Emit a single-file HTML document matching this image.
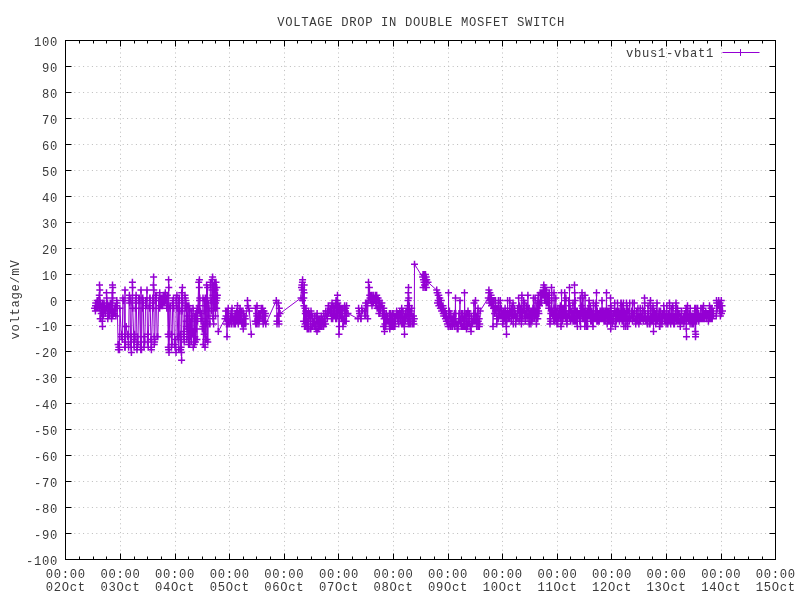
<!DOCTYPE html>
<html><head><meta charset="utf-8"><title>VOLTAGE DROP IN DOUBLE MOSFET SWITCH</title>
<style>
html,body{margin:0;padding:0;background:#fff;}
svg{display:block;}
text{font-family:"Liberation Mono","DejaVu Sans Mono",monospace;font-size:12.2px;letter-spacing:0.68px;fill:#3a3a3a;}
</style></head><body>
<svg width="800" height="600" viewBox="0 0 800 600">
<rect width="800" height="600" fill="#fff"/>
<path d="M120.50 559.5V40.5M175.50 559.5V40.5M229.50 559.5V40.5M284.50 559.5V40.5M338.50 559.5V40.5M393.50 559.5V40.5M448.50 559.5V40.5M502.50 559.5V40.5M557.50 559.5V40.5M611.50 559.5V40.5M666.50 559.5V40.5M721.50 559.5V40.5M65.5 66.50H775.5M65.5 92.50H775.5M65.5 118.50H775.5M65.5 144.50H775.5M65.5 170.50H775.5M65.5 196.50H775.5M65.5 222.50H775.5M65.5 248.50H775.5M65.5 274.50H775.5M65.5 300.50H775.5M65.5 325.50H775.5M65.5 351.50H775.5M65.5 377.50H775.5M65.5 403.50H775.5M65.5 429.50H775.5M65.5 455.50H775.5M65.5 481.50H775.5M65.5 507.50H775.5M65.5 533.50H775.5" fill="none" stroke="#bcbcbc" stroke-width="1" stroke-dasharray="1 3.4"/>
<path d="M65.50 559.5v-6M65.50 40.5v6M79.50 559.5v-3M79.50 40.5v3M93.50 559.5v-3M93.50 40.5v3M106.50 559.5v-3M106.50 40.5v3M120.50 559.5v-6M120.50 40.5v6M134.50 559.5v-3M134.50 40.5v3M147.50 559.5v-3M147.50 40.5v3M161.50 559.5v-3M161.50 40.5v3M175.50 559.5v-6M175.50 40.5v6M188.50 559.5v-3M188.50 40.5v3M202.50 559.5v-3M202.50 40.5v3M215.50 559.5v-3M215.50 40.5v3M229.50 559.5v-6M229.50 40.5v6M243.50 559.5v-3M243.50 40.5v3M256.50 559.5v-3M256.50 40.5v3M270.50 559.5v-3M270.50 40.5v3M284.50 559.5v-6M284.50 40.5v6M297.50 559.5v-3M297.50 40.5v3M311.50 559.5v-3M311.50 40.5v3M325.50 559.5v-3M325.50 40.5v3M338.50 559.5v-6M338.50 40.5v6M352.50 559.5v-3M352.50 40.5v3M366.50 559.5v-3M366.50 40.5v3M379.50 559.5v-3M379.50 40.5v3M393.50 559.5v-6M393.50 40.5v6M407.50 559.5v-3M407.50 40.5v3M420.50 559.5v-3M420.50 40.5v3M434.50 559.5v-3M434.50 40.5v3M448.50 559.5v-6M448.50 40.5v6M461.50 559.5v-3M461.50 40.5v3M475.50 559.5v-3M475.50 40.5v3M489.50 559.5v-3M489.50 40.5v3M502.50 559.5v-6M502.50 40.5v6M516.50 559.5v-3M516.50 40.5v3M530.50 559.5v-3M530.50 40.5v3M543.50 559.5v-3M543.50 40.5v3M557.50 559.5v-6M557.50 40.5v6M570.50 559.5v-3M570.50 40.5v3M584.50 559.5v-3M584.50 40.5v3M598.50 559.5v-3M598.50 40.5v3M611.50 559.5v-6M611.50 40.5v6M625.50 559.5v-3M625.50 40.5v3M639.50 559.5v-3M639.50 40.5v3M652.50 559.5v-3M652.50 40.5v3M666.50 559.5v-6M666.50 40.5v6M680.50 559.5v-3M680.50 40.5v3M693.50 559.5v-3M693.50 40.5v3M707.50 559.5v-3M707.50 40.5v3M721.50 559.5v-6M721.50 40.5v6M734.50 559.5v-3M734.50 40.5v3M748.50 559.5v-3M748.50 40.5v3M762.50 559.5v-3M762.50 40.5v3M775.50 559.5v-6M775.50 40.5v6M65.5 40.50h6M775.5 40.50h-6M65.5 66.50h6M775.5 66.50h-6M65.5 92.50h6M775.5 92.50h-6M65.5 118.50h6M775.5 118.50h-6M65.5 144.50h6M775.5 144.50h-6M65.5 170.50h6M775.5 170.50h-6M65.5 196.50h6M775.5 196.50h-6M65.5 222.50h6M775.5 222.50h-6M65.5 248.50h6M775.5 248.50h-6M65.5 274.50h6M775.5 274.50h-6M65.5 300.50h6M775.5 300.50h-6M65.5 325.50h6M775.5 325.50h-6M65.5 351.50h6M775.5 351.50h-6M65.5 377.50h6M775.5 377.50h-6M65.5 403.50h6M775.5 403.50h-6M65.5 429.50h6M775.5 429.50h-6M65.5 455.50h6M775.5 455.50h-6M65.5 481.50h6M775.5 481.50h-6M65.5 507.50h6M775.5 507.50h-6M65.5 533.50h6M775.5 533.50h-6M65.5 559.50h6M775.5 559.50h-6" fill="none" stroke="#000" stroke-width="1"/>
<rect x="65.5" y="40.5" width="710.0" height="519.0" fill="none" stroke="#000" stroke-width="1"/>
<g fill="none" stroke="#9400d3" stroke-width="1.0">
<path d="M94.6 308.3L95.2 308.3L95.4 310.9L95.5 305.7L95.7 303.1L96.1 305.7L96.2 308.3L96.6 308.3L97.1 300.5L97.4 308.3L98.0 300.5L98.4 305.7L98.9 305.7L99.0 308.3L99.3 295.3L99.3 305.7L99.4 308.3L99.5 284.9L99.8 290.1L99.9 303.1L99.9 300.5L100.2 318.7L100.3 303.1L100.9 305.7L101.2 313.5L101.7 305.7L101.9 308.3L102.2 321.3L102.4 303.1L102.5 303.1L102.5 326.4L102.9 313.5L103.4 316.1L103.5 305.7L103.8 310.9L104.1 303.1L104.2 305.7L104.9 308.3L105.0 310.9L105.3 313.5L105.6 308.3L106.0 310.9L106.2 305.7L106.5 303.1L106.5 292.7L106.7 297.9L106.7 308.3L106.9 305.7L107.6 303.1L107.8 318.7L108.0 313.5L108.3 305.7L108.5 310.9L109.0 316.1L109.3 305.7L109.7 316.1L109.7 313.5L110.2 303.1L110.5 310.9L111.1 303.1L111.6 318.7L111.6 303.1L111.8 310.9L112.2 303.1L112.3 292.7L112.4 297.9L112.5 284.9L112.7 316.1L112.7 287.5L112.8 316.1L112.9 313.5L113.3 310.9L113.9 313.5L114.0 310.9L114.5 313.5L114.6 308.3L115.2 305.7L115.4 308.3L115.9 316.1L116.5 305.7L116.8 300.5L117.0 303.1L117.3 308.3L118.1 344.6L118.4 349.8L118.6 344.6L118.9 347.2L119.4 349.8L119.9 308.3L121.4 336.8L121.7 334.2L121.9 334.2L122.2 339.4L122.9 297.9L123.2 300.5L123.4 300.5L123.7 300.5L123.9 300.5L124.7 347.2L124.9 336.8L125.0 290.1L125.2 347.2L125.4 342.0L126.2 326.4L127.6 336.8L127.9 334.2L128.1 334.2L128.4 344.6L128.6 347.2L129.1 300.5L129.4 295.3L129.6 303.1L129.9 300.5L130.1 297.9L130.5 336.8L130.8 342.0L131.0 347.2L131.3 336.8L131.4 352.4L132.0 303.1L132.3 297.9L132.4 282.3L132.5 308.3L132.6 287.5L132.8 308.3L133.9 342.0L134.1 347.2L134.4 336.8L134.6 334.2L134.9 339.4L135.4 308.3L135.6 300.5L135.9 300.5L136.1 295.3L136.4 303.1L137.0 349.8L137.2 347.2L137.4 342.0L137.7 336.8L137.9 344.6L138.8 297.9L139.0 300.5L139.3 297.9L139.5 300.5L140.5 347.2L140.8 349.8L141.0 290.1L141.0 342.0L141.3 347.2L141.5 349.8L142.3 297.9L142.5 308.3L142.8 297.9L143.0 300.5L143.3 303.1L144.0 347.2L144.3 336.8L144.5 342.0L144.8 342.0L145.7 300.5L146.0 300.5L146.2 305.7L146.5 305.7L146.7 300.5L147.0 290.1L147.5 342.0L147.7 334.2L148.0 334.2L148.2 347.2L149.1 305.7L149.3 305.7L149.6 308.3L149.8 297.9L150.1 297.9L150.9 339.4L151.1 347.2L151.4 349.8L151.6 342.0L152.6 308.3L152.8 297.9L153.1 308.3L153.3 303.1L153.4 284.9L153.6 300.5L153.6 277.1L153.8 290.1L154.1 336.8L154.3 344.6L154.6 342.0L154.8 339.4L155.6 295.3L155.9 295.3L156.1 297.9L156.4 295.3L157.1 336.8L157.3 336.8L157.6 336.8L157.8 336.8L158.7 300.5L159.0 300.5L159.2 297.9L159.5 308.3L159.6 305.7L159.7 292.7L159.7 308.3L160.1 297.9L160.4 305.7L160.8 305.7L161.1 300.5L161.3 297.9L161.8 303.1L161.9 297.9L162.2 305.7L162.4 300.5L162.6 305.7L162.9 303.1L163.3 295.3L163.6 297.9L163.9 300.5L164.2 303.1L164.5 295.3L165.0 303.1L165.2 300.5L165.3 292.7L166.3 297.9L166.6 297.9L166.8 308.3L167.1 295.3L167.3 295.3L168.1 334.2L168.3 347.2L168.6 349.8L168.6 279.7L168.8 287.5L168.8 336.8L169.0 352.4L169.9 305.7L170.1 308.3L170.4 305.7L170.6 305.7L171.2 334.2L171.5 347.2L171.7 334.2L172.0 344.6L172.7 303.1L173.0 300.5L173.2 305.7L173.5 297.9L173.7 308.3L174.5 344.6L174.7 344.6L175.0 347.2L175.2 339.4L176.0 352.4L176.1 297.9L176.4 303.1L176.6 305.7L176.9 295.3L177.1 308.3L177.8 336.8L178.1 339.4L178.3 336.8L178.6 336.8L178.8 300.5L178.8 349.8L179.1 297.9L179.3 297.9L179.6 308.3L179.8 310.9L180.2 334.2L180.5 349.8L180.7 349.8L181.0 339.4L181.2 347.2L181.4 352.4L181.6 360.2L181.7 292.7L182.0 310.9L182.2 300.5L182.4 287.5L182.5 297.9L182.7 303.1L183.5 334.2L183.7 336.8L184.0 331.6L184.2 342.0L185.0 295.3L185.3 297.9L185.5 308.3L185.8 300.5L186.0 305.7L186.2 321.3L186.3 326.4L186.7 305.7L186.9 339.4L187.3 316.1L187.5 329.0L187.9 305.7L188.1 334.2L188.3 326.4L188.6 344.6L188.9 305.7L189.3 331.6L189.6 308.3L189.6 344.6L190.1 336.8L190.3 321.3L190.6 336.8L190.8 331.6L191.2 310.9L191.4 342.0L191.8 318.7L192.0 316.1L192.3 331.6L192.5 334.2L192.8 334.2L193.1 308.3L193.3 347.2L193.7 336.8L193.8 331.6L194.3 344.6L194.6 316.1L194.9 336.8L194.9 318.7L195.4 342.0L195.8 329.0L195.9 313.5L196.3 329.0L196.3 316.1L196.7 310.9L197.0 339.4L197.2 308.3L197.6 321.3L197.8 310.9L198.7 282.3L198.9 310.9L199.1 305.7L199.3 287.5L199.4 279.7L199.6 300.5L199.8 297.9L200.1 313.5L200.3 313.5L200.6 310.9L201.1 321.3L201.4 313.5L201.9 318.7L202.3 329.0L202.8 326.4L203.0 297.9L203.3 344.6L203.8 323.9L204.1 334.2L204.3 300.5L204.7 310.9L204.9 305.7L205.0 347.2L205.3 297.9L205.7 339.4L206.1 323.9L206.3 321.3L206.5 297.9L206.6 284.9L207.0 339.4L207.2 300.5L207.6 287.5L207.8 342.0L208.4 303.1L208.6 316.1L209.0 308.3L209.3 323.9L210.0 323.9L210.3 284.9L210.7 282.3L210.8 284.9L211.1 300.5L211.5 310.9L211.7 303.1L212.1 279.7L212.3 279.7L212.4 290.1L212.6 277.1L212.7 284.9L212.9 318.7L212.9 295.3L213.6 300.5L213.6 323.9L213.7 284.9L214.0 290.1L214.6 308.3L214.7 297.9L214.8 282.3L215.2 290.1L215.5 316.1L215.6 303.1L215.9 287.5L216.0 282.3L216.2 300.5L216.7 308.3L216.8 287.5L216.9 297.9L217.4 295.3L218.3 331.6L225.0 318.7L225.3 318.7L225.7 310.9L226.0 316.1L226.5 323.9L226.6 310.9L226.9 310.9L227.0 336.8L227.1 316.1L227.9 323.9L227.9 316.1L228.2 308.3L228.4 313.5L228.7 318.7L229.3 321.3L229.5 323.9L229.9 321.3L230.5 316.1L230.8 321.3L231.3 310.9L231.4 323.9L231.7 318.7L231.7 318.7L231.8 323.9L232.0 308.3L232.2 318.7L232.9 316.1L233.2 318.7L233.6 321.3L234.0 323.9L234.3 321.3L234.7 318.7L235.0 313.5L235.4 323.9L235.4 316.1L235.7 316.1L236.1 318.7L236.5 313.5L236.7 310.9L236.8 321.3L237.2 316.1L237.5 305.7L237.7 318.7L238.3 323.9L238.6 313.5L239.0 321.3L239.3 310.9L239.3 316.1L239.8 310.9L239.9 313.5L240.0 308.3L240.3 313.5L240.4 321.3L240.8 313.5L241.3 310.9L241.7 323.9L242.0 323.9L242.4 321.3L242.5 321.3L242.8 323.9L243.0 310.9L243.3 329.0L243.5 313.5L243.9 316.1L244.2 323.9L244.5 318.7L244.6 316.1L245.0 316.1L245.3 318.7L245.7 323.9L247.5 300.5L247.8 305.7L248.5 308.3L249.3 310.9L251.3 334.2M255.1 321.3L255.5 308.3L255.8 323.9L256.2 321.3L256.6 313.5L256.8 316.1L257.0 305.7L257.1 323.9L257.8 321.3L258.0 318.7L258.5 321.3L258.6 313.5L258.9 323.9L259.2 321.3L259.3 316.1L259.7 313.5L260.2 313.5L260.3 313.5L260.9 318.7L261.0 318.7L261.4 308.3L261.8 310.9L262.4 310.9L262.6 308.3L262.7 318.7L262.9 313.5L263.2 323.9L263.7 316.1L264.0 310.9L264.5 321.3L264.8 313.5L265.0 316.1L265.1 321.3L265.6 313.5L265.8 323.9L276.3 300.5L276.6 303.1L276.9 321.3L277.0 323.9L277.4 316.1L277.7 321.3L277.8 321.3L278.2 316.1L278.4 303.1L278.7 321.3L278.8 321.3L279.0 323.9L279.3 308.3L280.0 313.5L301.0 297.9L301.5 287.5L301.7 287.5L301.9 284.9L302.3 290.1L302.4 282.3L302.6 279.7L302.6 300.5L303.0 290.1L303.3 290.1L303.6 321.3L303.6 290.1L303.8 297.9L303.9 305.7L304.1 292.7L304.2 284.9L304.6 326.4L305.0 308.3L305.1 323.9L305.3 313.5L305.5 326.4L305.6 321.3L305.7 310.9L306.0 308.3L306.2 321.3L306.5 313.5L306.6 313.5L306.7 323.9L307.0 313.5L307.2 329.0L307.5 326.4L307.6 323.9L308.1 318.7L308.4 329.0L308.5 310.9L309.0 316.1L309.2 313.5L309.9 316.1L310.2 329.0L310.3 318.7L310.8 329.0L311.0 310.9L311.4 313.5L311.4 316.1L311.9 316.1L312.1 326.4L312.6 316.1L312.9 326.4L313.4 323.9L313.7 321.3L313.9 323.9L314.3 323.9L314.6 316.1L314.8 326.4L315.0 323.9L315.6 326.4L315.9 329.0L316.3 316.1L316.5 321.3L317.0 316.1L317.0 331.6L317.1 313.5L317.2 321.3L317.8 318.7L318.0 323.9L318.3 329.0L318.7 329.0L319.0 321.3L319.3 318.7L319.6 326.4L319.8 326.4L320.1 321.3L320.6 321.3L320.9 318.7L320.9 326.4L321.4 316.1L321.6 326.4L322.0 326.4L322.2 321.3L322.5 318.7L322.9 321.3L323.2 321.3L323.6 326.4L323.8 323.9L323.9 313.5L324.6 318.7L324.7 323.9L325.3 323.9L325.6 323.9L325.8 310.9L325.9 313.5L326.6 316.1L326.8 316.1L327.4 318.7L327.7 310.9L327.9 313.5L328.3 305.7L328.5 310.9L328.6 305.7L328.9 313.5L329.3 310.9L329.5 310.9L330.3 308.3L330.5 310.9L330.8 313.5L330.9 313.5L331.5 305.7L331.5 318.7L331.9 316.1L332.0 303.1L332.4 316.1L332.7 318.7L333.2 305.7L333.6 316.1L333.6 316.1L333.7 310.9L334.4 308.3L334.6 316.1L334.9 305.7L335.0 305.7L335.7 318.7L336.0 316.1L336.0 300.5L336.1 303.1L336.5 305.7L336.7 318.7L337.1 305.7L337.2 300.5L337.4 316.1L337.5 295.3L337.6 310.9L337.8 303.1L338.0 305.7L338.6 305.7L339.0 334.2L339.0 310.9L339.3 310.9L339.3 326.4L339.5 318.7L339.7 305.7L340.3 316.1L340.7 308.3L340.7 313.5L340.9 310.9L341.4 316.1L341.6 318.7L341.7 308.3L342.3 318.7L342.8 308.3L342.8 318.7L343.0 326.4L343.5 318.7L343.7 318.7L343.8 321.3L344.4 308.3L344.6 305.7L344.9 321.3L345.1 310.9L345.7 308.3L346.0 313.5L346.2 321.3L346.3 316.1L346.6 305.7L348.0 313.5L358.0 318.7L358.6 308.3L359.3 310.9L359.5 313.5L360.1 316.1L360.8 318.7L361.1 318.7L361.8 308.3L362.5 310.9L364.5 310.9L364.9 316.1L365.6 303.1L365.8 316.1L366.8 305.7L367.1 303.1L367.7 318.7L368.5 282.3L368.7 287.5L368.9 300.5L369.4 287.5L369.7 295.3L370.0 297.9L370.2 297.9L370.6 300.5L371.1 295.3L371.4 303.1L371.6 295.3L372.0 305.7L372.3 297.9L372.7 300.5L372.9 300.5L373.2 295.3L373.5 303.1L373.9 297.9L374.3 300.5L374.5 297.9L375.0 300.5L375.3 295.3L375.6 300.5L375.9 305.7L376.4 305.7L376.7 295.3L376.8 300.5L377.1 308.3L377.4 308.3L377.8 308.3L378.1 297.9L378.5 300.5L378.9 313.5L379.3 308.3L379.4 300.5L379.8 313.5L380.1 303.1L380.4 310.9L381.0 305.7L381.2 305.7L381.6 305.7L381.9 303.1L382.2 308.3L382.4 316.1L382.7 310.9L383.1 313.5L383.1 308.3L383.6 326.4L383.6 316.1L383.8 308.3L384.1 318.7L384.4 313.5L384.5 331.6L384.5 313.5L384.9 323.9L384.9 316.1L385.5 316.1L385.7 326.4L385.8 323.9L386.4 313.5L386.5 321.3L387.2 321.3L387.3 321.3L387.4 321.3L387.6 316.1L388.1 321.3L388.7 321.3L389.2 323.9L389.4 313.5L389.8 329.0L389.8 318.7L390.2 323.9L390.5 326.4L390.7 313.5L391.3 316.1L391.7 326.4L392.0 321.3L392.2 326.4L392.6 313.5L392.9 321.3L393.0 313.5L393.2 326.4L393.7 326.4L394.1 323.9L394.4 316.1L394.4 318.7L394.9 326.4L395.2 316.1L395.6 321.3L396.1 316.1L396.3 316.1L396.6 316.1L396.7 310.9L396.9 316.1L397.5 313.5L397.9 321.3L398.2 318.7L398.6 313.5L398.8 323.9L398.9 318.7L399.3 313.5L399.8 310.9L400.0 316.1L400.6 321.3L400.8 316.1L401.3 313.5L401.7 308.3L401.8 323.9L402.2 316.1L402.4 323.9L402.5 318.7L402.8 321.3L403.0 310.9L403.6 323.9L403.8 318.7L404.3 326.4L404.5 316.1L404.5 334.2L404.5 323.9L404.8 316.1L405.3 313.5L405.4 321.3L405.9 310.9L405.9 310.9L406.1 318.7L406.7 316.1L407.0 316.1L407.4 308.3L407.6 305.7L407.9 321.3L408.1 300.5L408.1 313.5L408.3 292.7L408.4 323.9L408.5 287.5L408.7 297.9L409.1 308.3L409.4 305.7L409.5 323.9L409.7 310.9L410.0 321.3L410.5 323.9L410.7 313.5L411.2 310.9L411.7 308.3L411.9 316.1L412.0 318.7L412.3 323.9L412.7 318.7L413.1 323.9L413.3 321.3L413.5 316.1L413.9 323.9L413.9 323.9L414.3 318.7L414.5 264.2L422.6 277.1L423.0 274.6L423.1 287.5L423.4 279.7L423.6 279.7L424.0 282.3L424.0 274.6L424.2 274.6L424.5 284.9L424.9 274.6L425.0 287.5L425.2 279.7L425.5 274.6L425.7 279.7L426.1 277.1L426.2 277.1L426.4 287.5L426.7 279.7L428.0 282.3L436.7 290.1L437.1 292.7L437.1 292.7L437.5 303.1L437.8 292.7L438.1 300.5L438.2 295.3L438.8 295.3L438.8 305.7L439.2 303.1L439.5 303.1L439.8 297.9L440.0 300.5L440.4 308.3L440.7 305.7L440.9 305.7L441.2 300.5L441.6 310.9L441.6 310.9L442.2 305.7L442.4 308.3L442.6 308.3L443.0 305.7L443.2 313.5L443.6 308.3L443.7 316.1L444.2 316.1L444.4 316.1L444.7 313.5L445.0 313.5L445.1 310.9L445.4 318.7L445.8 313.5L446.1 316.1L446.4 313.5L446.4 321.3L447.0 318.7L447.4 323.9L447.6 321.3L448.2 323.9L448.2 326.4L448.4 316.1L448.5 292.7L448.8 323.9L449.2 313.5L449.4 310.9L449.8 316.1L450.0 326.4L450.7 313.5L450.8 313.5L451.0 326.4L451.5 318.7L451.9 321.3L452.2 318.7L452.6 321.3L452.6 326.4L453.2 316.1L453.6 318.7L453.7 323.9L453.7 321.3L454.4 313.5L454.8 326.4L455.1 318.7L455.5 297.9L455.6 321.3L455.7 313.5L455.8 321.3L456.4 323.9L457.0 323.9L457.2 323.9L457.3 329.0L457.5 326.4L458.0 329.0L458.2 323.9L458.5 321.3L459.0 313.5L459.2 313.5L459.3 321.3L459.7 313.5L460.0 300.5L460.1 321.3L460.4 323.9L460.5 318.7L460.8 323.9L461.5 326.4L461.7 313.5L462.3 318.7L462.5 313.5L462.9 313.5L463.0 326.4L463.5 318.7L464.0 326.4L464.5 321.3L464.5 292.7L465.0 321.3L465.0 326.4L465.0 318.7L465.5 316.1L466.0 313.5L466.5 329.0L466.6 313.5L466.9 313.5L467.3 326.4L467.6 323.9L467.9 313.5L468.0 310.9L468.5 323.9L469.1 321.3L469.2 323.9L469.2 316.1L469.6 313.5L470.4 326.4L470.5 326.4L470.6 326.4L471.0 331.6L471.2 323.9L471.4 316.1L472.0 321.3L472.1 323.9L472.4 321.3L472.5 323.9L473.2 318.7L473.5 318.7L473.7 313.5L473.9 321.3L474.0 303.1L474.3 321.3L474.7 321.3L475.3 313.5L475.5 300.5L475.8 321.3L476.2 316.1L476.3 316.1L476.7 326.4L476.7 318.7L477.2 316.1L477.8 321.3L477.8 313.5L478.0 308.3L478.3 321.3L478.3 326.4L479.2 323.9L479.2 318.7L479.3 326.4L479.7 323.9L480.2 310.9L488.3 297.9L488.7 292.7L488.9 290.1L489.2 300.5L489.4 303.1L489.7 300.5L489.9 292.7L490.4 303.1L490.6 297.9L491.1 295.3L491.4 297.9L491.5 305.7L492.0 300.5L492.2 305.7L492.4 300.5L492.9 300.5L493.0 326.4L493.4 305.7L493.5 308.3L493.9 300.5L494.1 308.3L494.6 313.5L494.9 313.5L495.2 308.3L495.4 310.9L495.5 300.5L495.9 308.3L496.2 308.3L496.7 323.9L496.8 318.7L496.9 316.1L497.4 308.3L497.8 308.3L498.0 308.3L498.3 318.7L498.4 300.5L498.5 303.1L498.8 313.5L498.9 308.3L499.3 316.1L499.7 310.9L500.0 316.1L500.3 300.5L500.5 308.3L500.7 308.3L501.3 316.1L501.4 308.3L501.7 310.9L501.9 316.1L502.3 316.1L502.5 318.7L502.8 323.9L502.9 313.5L503.1 321.3L503.4 310.9L503.6 318.7L504.2 318.7L504.2 313.5L504.3 316.1L504.8 313.5L505.1 308.3L505.3 310.9L505.3 321.3L505.9 313.5L506.2 318.7L506.3 326.4L506.5 334.2L506.7 318.7L506.8 321.3L506.9 313.5L507.4 310.9L507.6 300.5L507.7 313.5L508.2 316.1L508.3 313.5L508.6 318.7L509.1 316.1L509.5 310.9L509.6 318.7L509.8 300.5L510.0 310.9L510.0 316.1L510.4 310.9L510.7 313.5L511.3 313.5L511.4 321.3L511.5 308.3L512.0 313.5L512.2 310.9L512.2 305.7L512.7 316.1L512.9 310.9L513.1 303.1L513.2 316.1L513.3 323.9L513.7 316.1L514.2 316.1L514.4 308.3L514.6 316.1L514.6 308.3L515.0 313.5L515.6 313.5L515.6 316.1L515.7 323.9L515.9 318.7L516.3 316.1L516.4 318.7L516.4 316.1L517.0 316.1L517.1 318.7L517.6 310.9L517.8 308.3L517.9 310.9L518.3 308.3L518.6 310.9L518.6 297.9L519.0 308.3L519.1 321.3L519.4 308.3L519.6 305.7L519.7 310.9L519.9 316.1L520.4 308.3L520.5 316.1L520.9 318.7L521.3 308.3L521.4 323.9L521.7 316.1L521.9 295.3L521.9 310.9L522.3 313.5L522.4 313.5L522.9 318.7L522.9 310.9L523.2 308.3L523.5 308.3L523.7 300.5L523.9 310.9L524.2 308.3L524.6 303.1L524.7 316.1L525.0 316.1L525.3 321.3L525.4 313.5L525.8 318.7L525.8 316.1L526.2 308.3L526.4 316.1L526.5 305.7L526.8 308.3L527.1 316.1L527.4 308.3L527.8 308.3L527.9 295.3L528.0 318.7L528.3 316.1L528.5 308.3L529.1 308.3L529.1 316.1L529.2 323.9L529.7 313.5L529.8 316.1L530.0 316.1L530.4 313.5L530.8 310.9L530.9 323.9L531.0 313.5L531.1 318.7L531.3 310.9L531.8 318.7L532.0 316.1L532.0 321.3L532.5 313.5L532.9 308.3L533.1 318.7L533.1 318.7L533.4 297.9L533.5 313.5L534.0 308.3L534.3 310.9L534.5 310.9L534.7 318.7L534.9 316.1L535.1 297.9L535.2 316.1L535.6 310.9L536.0 316.1L536.4 323.9L536.6 313.5L536.9 310.9L537.0 303.1L537.1 308.3L537.4 308.3L537.7 313.5L537.8 318.7L538.1 300.5L538.3 295.3L538.6 310.9L538.9 313.5L539.3 303.1L539.5 305.7L539.9 303.1L540.1 292.7L540.3 292.7L540.6 300.5L540.9 303.1L541.1 300.5L541.3 292.7L541.6 303.1L541.8 295.3L542.2 295.3L542.4 292.7L542.6 295.3L542.8 295.3L543.1 292.7L543.2 295.3L543.4 287.5L543.7 287.5L543.8 284.9L544.0 292.7L544.1 287.5L544.4 295.3L544.6 300.5L544.9 290.1L544.9 287.5L545.3 290.1L545.4 290.1L545.6 300.5L545.9 290.1L546.2 303.1L546.3 290.1L546.5 290.1L547.0 295.3L547.0 295.3L547.3 303.1L547.7 303.1L547.8 295.3L548.1 300.5L548.4 295.3L548.7 308.3L548.8 297.9L549.2 295.3L549.2 292.7L549.3 300.5L549.7 308.3L550.0 323.9L550.0 308.3L550.3 318.7L550.7 321.3L550.8 313.5L551.1 310.9L551.4 300.5L551.5 287.5L551.6 313.5L551.7 292.7L551.7 300.5L552.0 310.9L552.3 310.9L552.7 316.1L552.8 313.5L553.4 313.5L553.5 316.1L553.5 321.3L554.0 308.3L554.0 292.7L554.4 313.5L554.9 321.3L554.9 318.7L555.2 313.5L555.7 308.3L555.8 297.9L555.9 310.9L556.1 318.7L556.5 310.9L556.5 318.7L557.0 323.9L557.2 316.1L557.6 323.9L557.6 316.1L557.9 308.3L558.3 318.7L558.6 316.1L558.6 316.1L558.7 313.5L559.2 316.1L559.3 313.5L559.8 308.3L560.0 318.7L560.2 313.5L560.4 305.7L560.6 318.7L561.0 305.7L561.0 308.3L561.0 326.4L561.4 316.1L561.5 292.7L561.5 308.3L561.6 308.3L562.2 313.5L562.4 321.3L562.9 308.3L563.0 318.7L563.2 308.3L563.4 313.5L563.5 316.1L563.9 313.5L564.1 316.1L564.3 310.9L564.7 292.7L564.8 316.1L565.1 300.5L565.2 313.5L565.5 318.7L565.7 318.7L565.9 297.9L566.3 313.5L566.7 313.5L566.8 313.5L566.9 323.9L567.1 318.7L567.5 318.7L568.1 316.1L568.2 316.1L568.5 313.5L568.6 313.5L568.7 300.5L569.0 313.5L569.4 313.5L569.5 287.5L569.7 318.7L569.9 305.7L570.0 310.9L570.1 318.7L570.6 318.7L570.7 321.3L571.1 310.9L571.3 310.9L571.7 316.1L571.8 318.7L572.2 316.1L572.3 313.5L572.8 313.5L573.0 303.1L573.0 321.3L573.3 321.3L573.7 316.1L573.8 316.1L574.2 310.9L574.4 318.7L574.5 284.9L574.6 308.3L574.7 292.7L574.7 321.3L575.2 300.5L575.2 310.9L575.5 321.3L575.7 321.3L576.2 316.1L576.3 310.9L576.4 321.3L577.1 321.3L577.3 318.7L577.4 326.4L577.4 310.9L578.0 316.1L578.3 316.1L578.5 313.5L578.7 316.1L579.0 313.5L579.2 313.5L579.3 316.1L579.4 318.7L579.8 321.3L580.2 313.5L580.3 297.9L580.4 313.5L580.5 326.4L580.8 316.1L581.1 313.5L581.4 310.9L581.8 305.7L581.9 313.5L582.0 292.7L582.4 318.7L582.6 308.3L582.7 313.5L582.8 316.1L582.9 297.9L583.3 310.9L583.6 318.7L584.0 318.7L584.2 318.7L584.3 310.9L584.6 313.5L584.8 326.4L585.0 310.9L585.0 295.3L585.5 321.3L585.8 313.5L586.0 316.1L586.1 313.5L586.5 326.4L586.5 313.5L586.9 310.9L587.2 310.9L587.6 313.5L587.6 326.4L587.8 316.1L588.3 310.9L588.3 308.3L588.8 313.5L589.1 300.5L589.1 316.1L589.3 313.5L589.7 310.9L589.9 316.1L590.3 318.7L590.3 305.7L590.7 321.3L590.8 316.1L591.0 321.3L591.5 310.9L591.8 321.3L592.0 310.9L592.1 316.1L592.5 321.3L592.6 316.1L592.9 318.7L593.0 326.4L593.4 313.5L593.4 303.1L593.6 316.1L594.1 318.7L594.3 316.1L594.6 318.7L595.2 313.5L595.4 305.7L595.5 313.5L595.6 318.7L596.0 310.9L596.0 303.1L596.4 316.1L596.5 292.7L596.9 321.3L597.2 318.7L597.3 310.9L597.7 321.3L597.8 316.1L598.3 321.3L598.7 313.5L598.9 313.5L599.0 318.7L599.2 321.3L599.9 318.7L600.0 310.9L600.3 310.9L600.5 316.1L600.9 318.7L601.2 313.5L601.4 316.1L601.6 313.5L601.9 310.9L602.0 300.5L602.3 310.9L602.4 318.7L602.9 310.9L603.1 313.5L603.3 318.7L603.7 310.9L603.9 318.7L604.0 321.3L604.4 318.7L604.7 313.5L605.2 321.3L605.3 310.9L605.8 313.5L605.8 318.7L606.1 316.1L606.2 310.9L606.5 292.7L606.7 313.5L607.0 310.9L607.2 323.9L607.4 318.7L607.5 310.9L608.0 313.5L608.3 318.7L608.5 321.3L609.0 310.9L609.2 313.5L609.3 316.1L609.6 318.7L609.9 321.3L610.3 321.3L610.5 297.9L610.6 308.3L610.7 329.0L610.9 316.1L611.0 305.7L611.2 321.3L611.4 313.5L611.7 318.7L612.1 318.7L612.3 323.9L612.7 321.3L613.0 313.5L613.4 321.3L613.8 313.5L613.9 313.5L614.5 310.9L614.7 303.1L614.7 310.9L615.2 321.3L615.4 313.5L615.4 326.4L615.8 316.1L616.3 310.9L616.3 313.5L616.4 321.3L616.8 316.1L617.4 318.7L617.5 303.1L617.6 318.7L618.0 310.9L618.1 313.5L618.2 310.9L618.7 318.7L619.1 310.9L619.4 321.3L619.8 313.5L619.8 313.5L620.1 313.5L620.5 318.7L620.9 318.7L620.9 303.1L621.1 316.1L621.2 303.1L621.4 310.9L622.0 305.7L622.1 321.3L622.3 316.1L622.8 310.9L623.0 321.3L623.4 318.7L623.4 303.1L623.8 318.7L623.9 326.4L624.1 313.5L624.6 310.9L624.9 313.5L625.2 318.7L625.6 316.1L625.8 326.4L626.0 318.7L626.4 310.9L626.5 303.1L626.5 318.7L627.0 305.7L627.0 321.3L627.4 321.3L627.7 326.4L627.8 310.9L628.1 318.7L628.3 318.7L628.9 318.7L629.1 310.9L629.3 321.3L629.7 303.1L629.9 318.7L630.1 318.7L630.3 318.7L630.5 318.7L631.0 316.1L631.3 316.1L631.4 313.5L631.6 310.9L632.1 310.9L632.2 318.7L632.5 303.1L632.5 321.3L632.8 318.7L633.2 318.7L633.3 313.5L633.9 318.7L633.9 313.5L634.3 303.1L634.6 313.5L634.7 313.5L635.3 321.3L635.4 321.3L635.7 318.7L635.7 323.9L636.2 321.3L636.5 310.9L636.9 316.1L637.3 318.7L637.4 316.1L637.5 316.1L637.8 321.3L637.9 308.3L638.3 316.1L638.4 316.1L638.8 316.1L638.9 323.9L639.1 316.1L639.5 316.1L639.8 321.3L640.2 308.3L640.3 321.3L640.9 318.7L640.9 313.5L641.3 316.1L641.5 318.7L641.7 316.1L641.8 316.1L642.2 318.7L642.5 308.3L642.7 318.7L643.2 318.7L643.4 321.3L643.8 318.7L644.1 310.9L644.3 318.7L644.4 316.1L644.4 318.7L644.5 297.9L644.7 303.1L644.9 318.7L645.0 316.1L645.3 318.7L645.4 313.5L645.6 318.7L645.8 321.3L646.4 321.3L646.5 318.7L646.9 318.7L647.3 323.9L647.5 316.1L647.6 316.1L647.9 313.5L648.0 305.7L648.4 318.7L648.5 313.5L648.8 318.7L649.3 323.9L649.5 321.3L649.9 318.7L650.0 323.9L650.1 321.3L650.1 303.1L650.5 300.5L650.7 316.1L650.9 308.3L651.1 318.7L651.6 316.1L651.6 321.3L651.9 318.7L652.4 318.7L652.7 310.9L653.0 321.3L653.0 308.3L653.0 305.7L653.1 316.1L653.2 316.1L653.5 331.6L653.7 318.7L654.2 310.9L654.4 318.7L654.7 318.7L654.9 313.5L655.2 313.5L655.3 321.3L655.7 323.9L655.8 321.3L656.1 318.7L656.5 321.3L656.5 310.9L656.6 318.7L657.0 303.1L657.2 321.3L657.4 321.3L657.8 321.3L657.9 316.1L658.1 318.7L658.6 318.7L658.8 318.7L659.1 310.9L659.3 316.1L659.5 326.4L659.6 318.7L659.9 326.4L660.0 321.3L660.2 310.9L660.6 310.9L660.8 321.3L661.1 321.3L661.3 316.1L661.6 321.3L661.9 323.9L662.2 318.7L662.4 313.5L662.7 321.3L663.1 316.1L663.3 313.5L663.6 316.1L663.7 305.7L663.9 310.9L664.4 310.9L664.5 316.1L664.7 321.3L665.4 316.1L665.5 318.7L665.7 318.7L666.1 323.9L666.1 321.3L666.3 313.5L666.8 305.7L666.9 321.3L667.3 316.1L667.6 318.7L667.8 323.9L667.9 318.7L668.0 321.3L668.4 313.5L668.5 321.3L668.9 321.3L669.2 316.1L669.2 318.7L669.5 303.1L669.7 316.1L669.9 321.3L670.3 316.1L670.6 318.7L670.7 323.9L671.2 308.3L671.5 316.1L671.7 316.1L671.9 316.1L672.1 321.3L672.7 321.3L672.7 305.7L673.0 308.3L673.4 321.3L673.5 316.1L673.6 321.3L673.8 323.9L674.3 316.1L674.4 323.9L674.6 321.3L675.2 318.7L675.5 313.5L675.5 316.1L675.8 310.9L676.0 308.3L676.0 303.1L676.3 321.3L676.4 321.3L676.7 316.1L677.1 318.7L677.6 308.3L677.9 321.3L677.9 313.5L678.2 316.1L678.4 316.1L678.8 316.1L679.1 313.5L679.4 321.3L679.7 321.3L679.8 321.3L680.3 321.3L680.3 326.4L680.6 316.1L680.8 316.1L681.1 318.7L681.5 310.9L681.7 318.7L681.8 321.3L682.2 318.7L682.4 321.3L682.6 318.7L682.8 318.7L683.4 316.1L683.5 321.3L683.7 321.3L683.9 323.9L684.2 318.7L684.8 321.3L684.8 313.5L685.1 321.3L685.1 318.7L685.8 316.1L686.0 308.3L686.3 310.9L686.3 329.0L686.3 316.1L686.4 310.9L686.5 336.8L686.6 316.1L687.1 316.1L687.2 318.7L687.5 305.7L687.8 310.9L687.9 318.7L688.3 318.7L688.4 321.3L688.5 316.1L688.8 321.3L689.4 321.3L689.6 318.7L689.6 313.5L690.1 321.3L690.1 323.9L690.3 308.3L691.0 318.7L691.0 316.1L691.2 316.1L691.6 321.3L691.9 323.9L692.1 316.1L692.6 321.3L692.7 323.9L693.4 316.1L693.6 321.3L693.6 323.9L693.7 321.3L693.9 318.7L694.4 316.1L694.6 321.3L694.8 308.3L695.3 331.6L695.4 316.1L695.4 310.9L695.5 336.8L695.7 334.2L695.9 318.7L695.9 308.3L696.0 310.9L696.1 316.1L696.7 321.3L696.9 318.7L697.3 313.5L697.6 308.3L697.6 318.7L698.0 316.1L698.6 313.5L698.8 321.3L698.9 316.1L699.2 318.7L699.7 318.7L700.1 316.1L700.3 316.1L700.6 318.7L700.9 308.3L701.1 318.7L701.5 316.1L701.8 318.7L702.1 316.1L702.5 308.3L702.5 313.5L703.0 316.1L703.3 318.7L703.3 313.5L703.5 305.7L703.8 313.5L704.4 313.5L704.6 318.7L705.2 313.5L705.5 313.5L705.5 313.5L705.8 310.9L706.1 316.1L706.1 313.5L706.6 318.7L706.7 313.5L707.2 316.1L707.7 313.5L708.2 313.5L708.4 321.3L708.5 316.1L708.7 313.5L709.1 316.1L709.5 305.7L709.7 318.7L710.0 318.7L710.3 313.5L710.4 313.5L711.0 308.3L711.0 313.5L711.4 318.7L711.8 316.1L712.0 308.3L712.2 318.7L712.7 313.5L712.8 316.1L713.2 310.9L713.3 316.1L713.6 316.1L716.2 316.1L716.5 300.5L716.7 303.1L717.0 310.9L717.5 305.7L717.9 305.7L718.3 303.1L718.4 305.7L718.7 300.5L719.1 305.7L719.6 310.9L719.8 310.9L720.0 303.1L720.4 316.1L720.9 305.7L721.0 310.9L721.3 300.5L721.5 313.5L722.0 305.7L722.5 310.9" stroke-linejoin="round"/>
<path d="M91.1 308.3h7m-3.5 -3.5v7M91.7 308.3h7m-3.5 -3.5v7M91.9 310.9h7m-3.5 -3.5v7M92.0 305.7h7m-3.5 -3.5v7M92.2 303.1h7m-3.5 -3.5v7M92.6 305.7h7m-3.5 -3.5v7M92.7 308.3h7m-3.5 -3.5v7M93.1 308.3h7m-3.5 -3.5v7M93.6 300.5h7m-3.5 -3.5v7M93.9 308.3h7m-3.5 -3.5v7M94.5 300.5h7m-3.5 -3.5v7M94.9 305.7h7m-3.5 -3.5v7M95.4 305.7h7m-3.5 -3.5v7M95.5 308.3h7m-3.5 -3.5v7M95.8 295.3h7m-3.5 -3.5v7M95.8 305.7h7m-3.5 -3.5v7M95.9 308.3h7m-3.5 -3.5v7M96.0 284.9h7m-3.5 -3.5v7M96.3 290.1h7m-3.5 -3.5v7M96.4 303.1h7m-3.5 -3.5v7M96.4 300.5h7m-3.5 -3.5v7M96.7 318.7h7m-3.5 -3.5v7M96.8 303.1h7m-3.5 -3.5v7M97.4 305.7h7m-3.5 -3.5v7M97.7 313.5h7m-3.5 -3.5v7M98.2 305.7h7m-3.5 -3.5v7M98.4 308.3h7m-3.5 -3.5v7M98.7 321.3h7m-3.5 -3.5v7M98.9 303.1h7m-3.5 -3.5v7M99.0 303.1h7m-3.5 -3.5v7M99.0 326.4h7m-3.5 -3.5v7M99.4 313.5h7m-3.5 -3.5v7M99.9 316.1h7m-3.5 -3.5v7M100.0 305.7h7m-3.5 -3.5v7M100.3 310.9h7m-3.5 -3.5v7M100.6 303.1h7m-3.5 -3.5v7M100.7 305.7h7m-3.5 -3.5v7M101.4 308.3h7m-3.5 -3.5v7M101.5 310.9h7m-3.5 -3.5v7M101.8 313.5h7m-3.5 -3.5v7M102.1 308.3h7m-3.5 -3.5v7M102.5 310.9h7m-3.5 -3.5v7M102.7 305.7h7m-3.5 -3.5v7M103.0 303.1h7m-3.5 -3.5v7M103.0 292.7h7m-3.5 -3.5v7M103.2 297.9h7m-3.5 -3.5v7M103.2 308.3h7m-3.5 -3.5v7M103.4 305.7h7m-3.5 -3.5v7M104.1 303.1h7m-3.5 -3.5v7M104.3 318.7h7m-3.5 -3.5v7M104.5 313.5h7m-3.5 -3.5v7M104.8 305.7h7m-3.5 -3.5v7M105.0 310.9h7m-3.5 -3.5v7M105.5 316.1h7m-3.5 -3.5v7M105.8 305.7h7m-3.5 -3.5v7M106.2 316.1h7m-3.5 -3.5v7M106.2 313.5h7m-3.5 -3.5v7M106.7 303.1h7m-3.5 -3.5v7M107.0 310.9h7m-3.5 -3.5v7M107.6 303.1h7m-3.5 -3.5v7M108.1 318.7h7m-3.5 -3.5v7M108.1 303.1h7m-3.5 -3.5v7M108.3 310.9h7m-3.5 -3.5v7M108.7 303.1h7m-3.5 -3.5v7M108.8 292.7h7m-3.5 -3.5v7M108.9 297.9h7m-3.5 -3.5v7M109.0 284.9h7m-3.5 -3.5v7M109.2 316.1h7m-3.5 -3.5v7M109.2 287.5h7m-3.5 -3.5v7M109.3 316.1h7m-3.5 -3.5v7M109.4 313.5h7m-3.5 -3.5v7M109.8 310.9h7m-3.5 -3.5v7M110.4 313.5h7m-3.5 -3.5v7M110.5 310.9h7m-3.5 -3.5v7M111.0 313.5h7m-3.5 -3.5v7M111.1 308.3h7m-3.5 -3.5v7M111.7 305.7h7m-3.5 -3.5v7M111.9 308.3h7m-3.5 -3.5v7M112.4 316.1h7m-3.5 -3.5v7M113.0 305.7h7m-3.5 -3.5v7M113.3 300.5h7m-3.5 -3.5v7M113.5 303.1h7m-3.5 -3.5v7M113.8 308.3h7m-3.5 -3.5v7M114.6 344.6h7m-3.5 -3.5v7M114.9 349.8h7m-3.5 -3.5v7M115.1 344.6h7m-3.5 -3.5v7M115.4 347.2h7m-3.5 -3.5v7M115.9 349.8h7m-3.5 -3.5v7M116.4 308.3h7m-3.5 -3.5v7M117.9 336.8h7m-3.5 -3.5v7M118.2 334.2h7m-3.5 -3.5v7M118.4 334.2h7m-3.5 -3.5v7M118.7 339.4h7m-3.5 -3.5v7M119.4 297.9h7m-3.5 -3.5v7M119.7 300.5h7m-3.5 -3.5v7M119.9 300.5h7m-3.5 -3.5v7M120.2 300.5h7m-3.5 -3.5v7M120.4 300.5h7m-3.5 -3.5v7M121.2 347.2h7m-3.5 -3.5v7M121.4 336.8h7m-3.5 -3.5v7M121.5 290.1h7m-3.5 -3.5v7M121.7 347.2h7m-3.5 -3.5v7M121.9 342.0h7m-3.5 -3.5v7M122.7 326.4h7m-3.5 -3.5v7M124.1 336.8h7m-3.5 -3.5v7M124.4 334.2h7m-3.5 -3.5v7M124.6 334.2h7m-3.5 -3.5v7M124.9 344.6h7m-3.5 -3.5v7M125.1 347.2h7m-3.5 -3.5v7M125.6 300.5h7m-3.5 -3.5v7M125.9 295.3h7m-3.5 -3.5v7M126.1 303.1h7m-3.5 -3.5v7M126.4 300.5h7m-3.5 -3.5v7M126.6 297.9h7m-3.5 -3.5v7M127.0 336.8h7m-3.5 -3.5v7M127.3 342.0h7m-3.5 -3.5v7M127.5 347.2h7m-3.5 -3.5v7M127.8 336.8h7m-3.5 -3.5v7M127.9 352.4h7m-3.5 -3.5v7M128.5 303.1h7m-3.5 -3.5v7M128.8 297.9h7m-3.5 -3.5v7M128.9 282.3h7m-3.5 -3.5v7M129.0 308.3h7m-3.5 -3.5v7M129.1 287.5h7m-3.5 -3.5v7M129.3 308.3h7m-3.5 -3.5v7M130.4 342.0h7m-3.5 -3.5v7M130.6 347.2h7m-3.5 -3.5v7M130.9 336.8h7m-3.5 -3.5v7M131.1 334.2h7m-3.5 -3.5v7M131.4 339.4h7m-3.5 -3.5v7M131.9 308.3h7m-3.5 -3.5v7M132.1 300.5h7m-3.5 -3.5v7M132.4 300.5h7m-3.5 -3.5v7M132.6 295.3h7m-3.5 -3.5v7M132.9 303.1h7m-3.5 -3.5v7M133.5 349.8h7m-3.5 -3.5v7M133.7 347.2h7m-3.5 -3.5v7M133.9 342.0h7m-3.5 -3.5v7M134.2 336.8h7m-3.5 -3.5v7M134.4 344.6h7m-3.5 -3.5v7M135.3 297.9h7m-3.5 -3.5v7M135.5 300.5h7m-3.5 -3.5v7M135.8 297.9h7m-3.5 -3.5v7M136.0 300.5h7m-3.5 -3.5v7M137.0 347.2h7m-3.5 -3.5v7M137.3 349.8h7m-3.5 -3.5v7M137.5 290.1h7m-3.5 -3.5v7M137.5 342.0h7m-3.5 -3.5v7M137.8 347.2h7m-3.5 -3.5v7M138.0 349.8h7m-3.5 -3.5v7M138.8 297.9h7m-3.5 -3.5v7M139.0 308.3h7m-3.5 -3.5v7M139.3 297.9h7m-3.5 -3.5v7M139.5 300.5h7m-3.5 -3.5v7M139.8 303.1h7m-3.5 -3.5v7M140.5 347.2h7m-3.5 -3.5v7M140.8 336.8h7m-3.5 -3.5v7M141.0 342.0h7m-3.5 -3.5v7M141.3 342.0h7m-3.5 -3.5v7M142.2 300.5h7m-3.5 -3.5v7M142.5 300.5h7m-3.5 -3.5v7M142.7 305.7h7m-3.5 -3.5v7M143.0 305.7h7m-3.5 -3.5v7M143.2 300.5h7m-3.5 -3.5v7M143.5 290.1h7m-3.5 -3.5v7M144.0 342.0h7m-3.5 -3.5v7M144.2 334.2h7m-3.5 -3.5v7M144.5 334.2h7m-3.5 -3.5v7M144.7 347.2h7m-3.5 -3.5v7M145.6 305.7h7m-3.5 -3.5v7M145.8 305.7h7m-3.5 -3.5v7M146.1 308.3h7m-3.5 -3.5v7M146.3 297.9h7m-3.5 -3.5v7M146.6 297.9h7m-3.5 -3.5v7M147.4 339.4h7m-3.5 -3.5v7M147.6 347.2h7m-3.5 -3.5v7M147.9 349.8h7m-3.5 -3.5v7M148.1 342.0h7m-3.5 -3.5v7M149.1 308.3h7m-3.5 -3.5v7M149.3 297.9h7m-3.5 -3.5v7M149.6 308.3h7m-3.5 -3.5v7M149.8 303.1h7m-3.5 -3.5v7M149.9 284.9h7m-3.5 -3.5v7M150.1 300.5h7m-3.5 -3.5v7M150.1 277.1h7m-3.5 -3.5v7M150.3 290.1h7m-3.5 -3.5v7M150.6 336.8h7m-3.5 -3.5v7M150.8 344.6h7m-3.5 -3.5v7M151.1 342.0h7m-3.5 -3.5v7M151.3 339.4h7m-3.5 -3.5v7M152.1 295.3h7m-3.5 -3.5v7M152.4 295.3h7m-3.5 -3.5v7M152.6 297.9h7m-3.5 -3.5v7M152.9 295.3h7m-3.5 -3.5v7M153.6 336.8h7m-3.5 -3.5v7M153.8 336.8h7m-3.5 -3.5v7M154.1 336.8h7m-3.5 -3.5v7M154.3 336.8h7m-3.5 -3.5v7M155.2 300.5h7m-3.5 -3.5v7M155.5 300.5h7m-3.5 -3.5v7M155.7 297.9h7m-3.5 -3.5v7M156.0 308.3h7m-3.5 -3.5v7M156.1 305.7h7m-3.5 -3.5v7M156.2 292.7h7m-3.5 -3.5v7M156.2 308.3h7m-3.5 -3.5v7M156.6 297.9h7m-3.5 -3.5v7M156.9 305.7h7m-3.5 -3.5v7M157.3 305.7h7m-3.5 -3.5v7M157.6 300.5h7m-3.5 -3.5v7M157.8 297.9h7m-3.5 -3.5v7M158.3 303.1h7m-3.5 -3.5v7M158.4 297.9h7m-3.5 -3.5v7M158.7 305.7h7m-3.5 -3.5v7M158.9 300.5h7m-3.5 -3.5v7M159.1 305.7h7m-3.5 -3.5v7M159.4 303.1h7m-3.5 -3.5v7M159.8 295.3h7m-3.5 -3.5v7M160.1 297.9h7m-3.5 -3.5v7M160.4 300.5h7m-3.5 -3.5v7M160.7 303.1h7m-3.5 -3.5v7M161.0 295.3h7m-3.5 -3.5v7M161.5 303.1h7m-3.5 -3.5v7M161.7 300.5h7m-3.5 -3.5v7M161.8 292.7h7m-3.5 -3.5v7M162.8 297.9h7m-3.5 -3.5v7M163.1 297.9h7m-3.5 -3.5v7M163.3 308.3h7m-3.5 -3.5v7M163.6 295.3h7m-3.5 -3.5v7M163.8 295.3h7m-3.5 -3.5v7M164.6 334.2h7m-3.5 -3.5v7M164.8 347.2h7m-3.5 -3.5v7M165.1 349.8h7m-3.5 -3.5v7M165.1 279.7h7m-3.5 -3.5v7M165.3 287.5h7m-3.5 -3.5v7M165.3 336.8h7m-3.5 -3.5v7M165.5 352.4h7m-3.5 -3.5v7M166.4 305.7h7m-3.5 -3.5v7M166.6 308.3h7m-3.5 -3.5v7M166.9 305.7h7m-3.5 -3.5v7M167.1 305.7h7m-3.5 -3.5v7M167.7 334.2h7m-3.5 -3.5v7M168.0 347.2h7m-3.5 -3.5v7M168.2 334.2h7m-3.5 -3.5v7M168.5 344.6h7m-3.5 -3.5v7M169.2 303.1h7m-3.5 -3.5v7M169.5 300.5h7m-3.5 -3.5v7M169.7 305.7h7m-3.5 -3.5v7M170.0 297.9h7m-3.5 -3.5v7M170.2 308.3h7m-3.5 -3.5v7M171.0 344.6h7m-3.5 -3.5v7M171.2 344.6h7m-3.5 -3.5v7M171.5 347.2h7m-3.5 -3.5v7M171.7 339.4h7m-3.5 -3.5v7M172.5 352.4h7m-3.5 -3.5v7M172.6 297.9h7m-3.5 -3.5v7M172.9 303.1h7m-3.5 -3.5v7M173.1 305.7h7m-3.5 -3.5v7M173.4 295.3h7m-3.5 -3.5v7M173.6 308.3h7m-3.5 -3.5v7M174.3 336.8h7m-3.5 -3.5v7M174.6 339.4h7m-3.5 -3.5v7M174.8 336.8h7m-3.5 -3.5v7M175.1 336.8h7m-3.5 -3.5v7M175.3 300.5h7m-3.5 -3.5v7M175.3 349.8h7m-3.5 -3.5v7M175.6 297.9h7m-3.5 -3.5v7M175.8 297.9h7m-3.5 -3.5v7M176.1 308.3h7m-3.5 -3.5v7M176.3 310.9h7m-3.5 -3.5v7M176.7 334.2h7m-3.5 -3.5v7M177.0 349.8h7m-3.5 -3.5v7M177.2 349.8h7m-3.5 -3.5v7M177.5 339.4h7m-3.5 -3.5v7M177.7 347.2h7m-3.5 -3.5v7M177.9 352.4h7m-3.5 -3.5v7M178.1 360.2h7m-3.5 -3.5v7M178.2 292.7h7m-3.5 -3.5v7M178.5 310.9h7m-3.5 -3.5v7M178.7 300.5h7m-3.5 -3.5v7M178.9 287.5h7m-3.5 -3.5v7M179.0 297.9h7m-3.5 -3.5v7M179.2 303.1h7m-3.5 -3.5v7M180.0 334.2h7m-3.5 -3.5v7M180.2 336.8h7m-3.5 -3.5v7M180.5 331.6h7m-3.5 -3.5v7M180.7 342.0h7m-3.5 -3.5v7M181.5 295.3h7m-3.5 -3.5v7M181.8 297.9h7m-3.5 -3.5v7M182.0 308.3h7m-3.5 -3.5v7M182.3 300.5h7m-3.5 -3.5v7M182.5 305.7h7m-3.5 -3.5v7M182.7 321.3h7m-3.5 -3.5v7M182.8 326.4h7m-3.5 -3.5v7M183.2 305.7h7m-3.5 -3.5v7M183.4 339.4h7m-3.5 -3.5v7M183.8 316.1h7m-3.5 -3.5v7M184.0 329.0h7m-3.5 -3.5v7M184.4 305.7h7m-3.5 -3.5v7M184.6 334.2h7m-3.5 -3.5v7M184.8 326.4h7m-3.5 -3.5v7M185.1 344.6h7m-3.5 -3.5v7M185.4 305.7h7m-3.5 -3.5v7M185.8 331.6h7m-3.5 -3.5v7M186.1 308.3h7m-3.5 -3.5v7M186.1 344.6h7m-3.5 -3.5v7M186.6 336.8h7m-3.5 -3.5v7M186.8 321.3h7m-3.5 -3.5v7M187.1 336.8h7m-3.5 -3.5v7M187.3 331.6h7m-3.5 -3.5v7M187.7 310.9h7m-3.5 -3.5v7M187.9 342.0h7m-3.5 -3.5v7M188.3 318.7h7m-3.5 -3.5v7M188.5 316.1h7m-3.5 -3.5v7M188.8 331.6h7m-3.5 -3.5v7M189.0 334.2h7m-3.5 -3.5v7M189.3 334.2h7m-3.5 -3.5v7M189.6 308.3h7m-3.5 -3.5v7M189.8 347.2h7m-3.5 -3.5v7M190.2 336.8h7m-3.5 -3.5v7M190.3 331.6h7m-3.5 -3.5v7M190.8 344.6h7m-3.5 -3.5v7M191.1 316.1h7m-3.5 -3.5v7M191.4 336.8h7m-3.5 -3.5v7M191.4 318.7h7m-3.5 -3.5v7M191.9 342.0h7m-3.5 -3.5v7M192.3 329.0h7m-3.5 -3.5v7M192.4 313.5h7m-3.5 -3.5v7M192.8 329.0h7m-3.5 -3.5v7M192.8 316.1h7m-3.5 -3.5v7M193.2 310.9h7m-3.5 -3.5v7M193.5 339.4h7m-3.5 -3.5v7M193.7 308.3h7m-3.5 -3.5v7M194.1 321.3h7m-3.5 -3.5v7M194.3 310.9h7m-3.5 -3.5v7M195.2 282.3h7m-3.5 -3.5v7M195.4 310.9h7m-3.5 -3.5v7M195.6 305.7h7m-3.5 -3.5v7M195.8 287.5h7m-3.5 -3.5v7M195.9 279.7h7m-3.5 -3.5v7M196.1 300.5h7m-3.5 -3.5v7M196.3 297.9h7m-3.5 -3.5v7M196.6 313.5h7m-3.5 -3.5v7M196.8 313.5h7m-3.5 -3.5v7M197.1 310.9h7m-3.5 -3.5v7M197.6 321.3h7m-3.5 -3.5v7M197.9 313.5h7m-3.5 -3.5v7M198.4 318.7h7m-3.5 -3.5v7M198.8 329.0h7m-3.5 -3.5v7M199.3 326.4h7m-3.5 -3.5v7M199.5 297.9h7m-3.5 -3.5v7M199.8 344.6h7m-3.5 -3.5v7M200.3 323.9h7m-3.5 -3.5v7M200.6 334.2h7m-3.5 -3.5v7M200.8 300.5h7m-3.5 -3.5v7M201.2 310.9h7m-3.5 -3.5v7M201.4 305.7h7m-3.5 -3.5v7M201.5 347.2h7m-3.5 -3.5v7M201.8 297.9h7m-3.5 -3.5v7M202.2 339.4h7m-3.5 -3.5v7M202.6 323.9h7m-3.5 -3.5v7M202.8 321.3h7m-3.5 -3.5v7M203.0 297.9h7m-3.5 -3.5v7M203.1 284.9h7m-3.5 -3.5v7M203.5 339.4h7m-3.5 -3.5v7M203.7 300.5h7m-3.5 -3.5v7M204.1 287.5h7m-3.5 -3.5v7M204.3 342.0h7m-3.5 -3.5v7M204.9 303.1h7m-3.5 -3.5v7M205.1 316.1h7m-3.5 -3.5v7M205.5 308.3h7m-3.5 -3.5v7M205.8 323.9h7m-3.5 -3.5v7M206.5 323.9h7m-3.5 -3.5v7M206.8 284.9h7m-3.5 -3.5v7M207.2 282.3h7m-3.5 -3.5v7M207.3 284.9h7m-3.5 -3.5v7M207.6 300.5h7m-3.5 -3.5v7M208.0 310.9h7m-3.5 -3.5v7M208.2 303.1h7m-3.5 -3.5v7M208.6 279.7h7m-3.5 -3.5v7M208.8 279.7h7m-3.5 -3.5v7M208.9 290.1h7m-3.5 -3.5v7M209.1 277.1h7m-3.5 -3.5v7M209.2 284.9h7m-3.5 -3.5v7M209.4 318.7h7m-3.5 -3.5v7M209.4 295.3h7m-3.5 -3.5v7M210.1 300.5h7m-3.5 -3.5v7M210.1 323.9h7m-3.5 -3.5v7M210.2 284.9h7m-3.5 -3.5v7M210.5 290.1h7m-3.5 -3.5v7M211.1 308.3h7m-3.5 -3.5v7M211.2 297.9h7m-3.5 -3.5v7M211.3 282.3h7m-3.5 -3.5v7M211.7 290.1h7m-3.5 -3.5v7M212.0 316.1h7m-3.5 -3.5v7M212.1 303.1h7m-3.5 -3.5v7M212.4 287.5h7m-3.5 -3.5v7M212.5 282.3h7m-3.5 -3.5v7M212.7 300.5h7m-3.5 -3.5v7M213.2 308.3h7m-3.5 -3.5v7M213.3 287.5h7m-3.5 -3.5v7M213.4 297.9h7m-3.5 -3.5v7M213.9 295.3h7m-3.5 -3.5v7M214.8 331.6h7m-3.5 -3.5v7M221.5 318.7h7m-3.5 -3.5v7M221.8 318.7h7m-3.5 -3.5v7M222.2 310.9h7m-3.5 -3.5v7M222.5 316.1h7m-3.5 -3.5v7M223.0 323.9h7m-3.5 -3.5v7M223.1 310.9h7m-3.5 -3.5v7M223.4 310.9h7m-3.5 -3.5v7M223.5 336.8h7m-3.5 -3.5v7M223.6 316.1h7m-3.5 -3.5v7M224.4 323.9h7m-3.5 -3.5v7M224.4 316.1h7m-3.5 -3.5v7M224.7 308.3h7m-3.5 -3.5v7M224.9 313.5h7m-3.5 -3.5v7M225.2 318.7h7m-3.5 -3.5v7M225.8 321.3h7m-3.5 -3.5v7M226.0 323.9h7m-3.5 -3.5v7M226.4 321.3h7m-3.5 -3.5v7M227.0 316.1h7m-3.5 -3.5v7M227.3 321.3h7m-3.5 -3.5v7M227.8 310.9h7m-3.5 -3.5v7M227.9 323.9h7m-3.5 -3.5v7M228.2 318.7h7m-3.5 -3.5v7M228.2 318.7h7m-3.5 -3.5v7M228.3 323.9h7m-3.5 -3.5v7M228.5 308.3h7m-3.5 -3.5v7M228.7 318.7h7m-3.5 -3.5v7M229.4 316.1h7m-3.5 -3.5v7M229.7 318.7h7m-3.5 -3.5v7M230.1 321.3h7m-3.5 -3.5v7M230.5 323.9h7m-3.5 -3.5v7M230.8 321.3h7m-3.5 -3.5v7M231.2 318.7h7m-3.5 -3.5v7M231.5 313.5h7m-3.5 -3.5v7M231.9 323.9h7m-3.5 -3.5v7M231.9 316.1h7m-3.5 -3.5v7M232.2 316.1h7m-3.5 -3.5v7M232.6 318.7h7m-3.5 -3.5v7M233.0 313.5h7m-3.5 -3.5v7M233.2 310.9h7m-3.5 -3.5v7M233.3 321.3h7m-3.5 -3.5v7M233.7 316.1h7m-3.5 -3.5v7M234.0 305.7h7m-3.5 -3.5v7M234.2 318.7h7m-3.5 -3.5v7M234.8 323.9h7m-3.5 -3.5v7M235.1 313.5h7m-3.5 -3.5v7M235.5 321.3h7m-3.5 -3.5v7M235.8 310.9h7m-3.5 -3.5v7M235.8 316.1h7m-3.5 -3.5v7M236.3 310.9h7m-3.5 -3.5v7M236.4 313.5h7m-3.5 -3.5v7M236.5 308.3h7m-3.5 -3.5v7M236.8 313.5h7m-3.5 -3.5v7M236.9 321.3h7m-3.5 -3.5v7M237.3 313.5h7m-3.5 -3.5v7M237.8 310.9h7m-3.5 -3.5v7M238.2 323.9h7m-3.5 -3.5v7M238.5 323.9h7m-3.5 -3.5v7M238.9 321.3h7m-3.5 -3.5v7M239.0 321.3h7m-3.5 -3.5v7M239.3 323.9h7m-3.5 -3.5v7M239.5 310.9h7m-3.5 -3.5v7M239.8 329.0h7m-3.5 -3.5v7M240.0 313.5h7m-3.5 -3.5v7M240.4 316.1h7m-3.5 -3.5v7M240.7 323.9h7m-3.5 -3.5v7M241.0 318.7h7m-3.5 -3.5v7M241.1 316.1h7m-3.5 -3.5v7M241.5 316.1h7m-3.5 -3.5v7M241.8 318.7h7m-3.5 -3.5v7M242.2 323.9h7m-3.5 -3.5v7M244.0 300.5h7m-3.5 -3.5v7M244.3 305.7h7m-3.5 -3.5v7M245.0 308.3h7m-3.5 -3.5v7M245.8 310.9h7m-3.5 -3.5v7M247.8 334.2h7m-3.5 -3.5v7M251.6 321.3h7m-3.5 -3.5v7M252.0 308.3h7m-3.5 -3.5v7M252.3 323.9h7m-3.5 -3.5v7M252.7 321.3h7m-3.5 -3.5v7M253.1 313.5h7m-3.5 -3.5v7M253.3 316.1h7m-3.5 -3.5v7M253.5 305.7h7m-3.5 -3.5v7M253.6 323.9h7m-3.5 -3.5v7M254.3 321.3h7m-3.5 -3.5v7M254.5 318.7h7m-3.5 -3.5v7M255.0 321.3h7m-3.5 -3.5v7M255.1 313.5h7m-3.5 -3.5v7M255.4 323.9h7m-3.5 -3.5v7M255.7 321.3h7m-3.5 -3.5v7M255.8 316.1h7m-3.5 -3.5v7M256.2 313.5h7m-3.5 -3.5v7M256.7 313.5h7m-3.5 -3.5v7M256.8 313.5h7m-3.5 -3.5v7M257.4 318.7h7m-3.5 -3.5v7M257.5 318.7h7m-3.5 -3.5v7M257.9 308.3h7m-3.5 -3.5v7M258.3 310.9h7m-3.5 -3.5v7M258.9 310.9h7m-3.5 -3.5v7M259.1 308.3h7m-3.5 -3.5v7M259.2 318.7h7m-3.5 -3.5v7M259.4 313.5h7m-3.5 -3.5v7M259.7 323.9h7m-3.5 -3.5v7M260.2 316.1h7m-3.5 -3.5v7M260.5 310.9h7m-3.5 -3.5v7M261.0 321.3h7m-3.5 -3.5v7M261.3 313.5h7m-3.5 -3.5v7M261.5 316.1h7m-3.5 -3.5v7M261.6 321.3h7m-3.5 -3.5v7M262.1 313.5h7m-3.5 -3.5v7M262.3 323.9h7m-3.5 -3.5v7M272.8 300.5h7m-3.5 -3.5v7M273.1 303.1h7m-3.5 -3.5v7M273.4 321.3h7m-3.5 -3.5v7M273.5 323.9h7m-3.5 -3.5v7M273.9 316.1h7m-3.5 -3.5v7M274.2 321.3h7m-3.5 -3.5v7M274.3 321.3h7m-3.5 -3.5v7M274.7 316.1h7m-3.5 -3.5v7M274.9 303.1h7m-3.5 -3.5v7M275.2 321.3h7m-3.5 -3.5v7M275.3 321.3h7m-3.5 -3.5v7M275.5 323.9h7m-3.5 -3.5v7M275.8 308.3h7m-3.5 -3.5v7M276.5 313.5h7m-3.5 -3.5v7M297.5 297.9h7m-3.5 -3.5v7M298.0 287.5h7m-3.5 -3.5v7M298.2 287.5h7m-3.5 -3.5v7M298.4 284.9h7m-3.5 -3.5v7M298.8 290.1h7m-3.5 -3.5v7M298.9 282.3h7m-3.5 -3.5v7M299.1 279.7h7m-3.5 -3.5v7M299.1 300.5h7m-3.5 -3.5v7M299.5 290.1h7m-3.5 -3.5v7M299.8 290.1h7m-3.5 -3.5v7M300.1 321.3h7m-3.5 -3.5v7M300.1 290.1h7m-3.5 -3.5v7M300.3 297.9h7m-3.5 -3.5v7M300.4 305.7h7m-3.5 -3.5v7M300.6 292.7h7m-3.5 -3.5v7M300.7 284.9h7m-3.5 -3.5v7M301.1 326.4h7m-3.5 -3.5v7M301.5 308.3h7m-3.5 -3.5v7M301.6 323.9h7m-3.5 -3.5v7M301.8 313.5h7m-3.5 -3.5v7M302.0 326.4h7m-3.5 -3.5v7M302.1 321.3h7m-3.5 -3.5v7M302.2 310.9h7m-3.5 -3.5v7M302.5 308.3h7m-3.5 -3.5v7M302.7 321.3h7m-3.5 -3.5v7M303.0 313.5h7m-3.5 -3.5v7M303.1 313.5h7m-3.5 -3.5v7M303.2 323.9h7m-3.5 -3.5v7M303.5 313.5h7m-3.5 -3.5v7M303.7 329.0h7m-3.5 -3.5v7M304.0 326.4h7m-3.5 -3.5v7M304.1 323.9h7m-3.5 -3.5v7M304.6 318.7h7m-3.5 -3.5v7M304.9 329.0h7m-3.5 -3.5v7M305.0 310.9h7m-3.5 -3.5v7M305.5 316.1h7m-3.5 -3.5v7M305.7 313.5h7m-3.5 -3.5v7M306.4 316.1h7m-3.5 -3.5v7M306.7 329.0h7m-3.5 -3.5v7M306.8 318.7h7m-3.5 -3.5v7M307.3 329.0h7m-3.5 -3.5v7M307.5 310.9h7m-3.5 -3.5v7M307.9 313.5h7m-3.5 -3.5v7M307.9 316.1h7m-3.5 -3.5v7M308.4 316.1h7m-3.5 -3.5v7M308.6 326.4h7m-3.5 -3.5v7M309.1 316.1h7m-3.5 -3.5v7M309.4 326.4h7m-3.5 -3.5v7M309.9 323.9h7m-3.5 -3.5v7M310.2 321.3h7m-3.5 -3.5v7M310.4 323.9h7m-3.5 -3.5v7M310.8 323.9h7m-3.5 -3.5v7M311.1 316.1h7m-3.5 -3.5v7M311.3 326.4h7m-3.5 -3.5v7M311.5 323.9h7m-3.5 -3.5v7M312.1 326.4h7m-3.5 -3.5v7M312.4 329.0h7m-3.5 -3.5v7M312.8 316.1h7m-3.5 -3.5v7M313.0 321.3h7m-3.5 -3.5v7M313.5 316.1h7m-3.5 -3.5v7M313.5 331.6h7m-3.5 -3.5v7M313.6 313.5h7m-3.5 -3.5v7M313.7 321.3h7m-3.5 -3.5v7M314.3 318.7h7m-3.5 -3.5v7M314.5 323.9h7m-3.5 -3.5v7M314.8 329.0h7m-3.5 -3.5v7M315.2 329.0h7m-3.5 -3.5v7M315.5 321.3h7m-3.5 -3.5v7M315.8 318.7h7m-3.5 -3.5v7M316.1 326.4h7m-3.5 -3.5v7M316.3 326.4h7m-3.5 -3.5v7M316.6 321.3h7m-3.5 -3.5v7M317.1 321.3h7m-3.5 -3.5v7M317.4 318.7h7m-3.5 -3.5v7M317.4 326.4h7m-3.5 -3.5v7M317.9 316.1h7m-3.5 -3.5v7M318.1 326.4h7m-3.5 -3.5v7M318.5 326.4h7m-3.5 -3.5v7M318.7 321.3h7m-3.5 -3.5v7M319.0 318.7h7m-3.5 -3.5v7M319.4 321.3h7m-3.5 -3.5v7M319.7 321.3h7m-3.5 -3.5v7M320.1 326.4h7m-3.5 -3.5v7M320.3 323.9h7m-3.5 -3.5v7M320.4 313.5h7m-3.5 -3.5v7M321.1 318.7h7m-3.5 -3.5v7M321.2 323.9h7m-3.5 -3.5v7M321.8 323.9h7m-3.5 -3.5v7M322.1 323.9h7m-3.5 -3.5v7M322.3 310.9h7m-3.5 -3.5v7M322.4 313.5h7m-3.5 -3.5v7M323.1 316.1h7m-3.5 -3.5v7M323.3 316.1h7m-3.5 -3.5v7M323.9 318.7h7m-3.5 -3.5v7M324.2 310.9h7m-3.5 -3.5v7M324.4 313.5h7m-3.5 -3.5v7M324.8 305.7h7m-3.5 -3.5v7M325.0 310.9h7m-3.5 -3.5v7M325.1 305.7h7m-3.5 -3.5v7M325.4 313.5h7m-3.5 -3.5v7M325.8 310.9h7m-3.5 -3.5v7M326.0 310.9h7m-3.5 -3.5v7M326.8 308.3h7m-3.5 -3.5v7M327.0 310.9h7m-3.5 -3.5v7M327.3 313.5h7m-3.5 -3.5v7M327.4 313.5h7m-3.5 -3.5v7M328.0 305.7h7m-3.5 -3.5v7M328.0 318.7h7m-3.5 -3.5v7M328.4 316.1h7m-3.5 -3.5v7M328.5 303.1h7m-3.5 -3.5v7M328.9 316.1h7m-3.5 -3.5v7M329.2 318.7h7m-3.5 -3.5v7M329.7 305.7h7m-3.5 -3.5v7M330.1 316.1h7m-3.5 -3.5v7M330.1 316.1h7m-3.5 -3.5v7M330.2 310.9h7m-3.5 -3.5v7M330.9 308.3h7m-3.5 -3.5v7M331.1 316.1h7m-3.5 -3.5v7M331.4 305.7h7m-3.5 -3.5v7M331.5 305.7h7m-3.5 -3.5v7M332.2 318.7h7m-3.5 -3.5v7M332.5 316.1h7m-3.5 -3.5v7M332.5 300.5h7m-3.5 -3.5v7M332.6 303.1h7m-3.5 -3.5v7M333.0 305.7h7m-3.5 -3.5v7M333.2 318.7h7m-3.5 -3.5v7M333.6 305.7h7m-3.5 -3.5v7M333.7 300.5h7m-3.5 -3.5v7M333.9 316.1h7m-3.5 -3.5v7M334.0 295.3h7m-3.5 -3.5v7M334.1 310.9h7m-3.5 -3.5v7M334.3 303.1h7m-3.5 -3.5v7M334.5 305.7h7m-3.5 -3.5v7M335.1 305.7h7m-3.5 -3.5v7M335.5 334.2h7m-3.5 -3.5v7M335.5 310.9h7m-3.5 -3.5v7M335.8 310.9h7m-3.5 -3.5v7M335.8 326.4h7m-3.5 -3.5v7M336.0 318.7h7m-3.5 -3.5v7M336.2 305.7h7m-3.5 -3.5v7M336.8 316.1h7m-3.5 -3.5v7M337.2 308.3h7m-3.5 -3.5v7M337.2 313.5h7m-3.5 -3.5v7M337.4 310.9h7m-3.5 -3.5v7M337.9 316.1h7m-3.5 -3.5v7M338.1 318.7h7m-3.5 -3.5v7M338.2 308.3h7m-3.5 -3.5v7M338.8 318.7h7m-3.5 -3.5v7M339.3 308.3h7m-3.5 -3.5v7M339.3 318.7h7m-3.5 -3.5v7M339.5 326.4h7m-3.5 -3.5v7M340.0 318.7h7m-3.5 -3.5v7M340.2 318.7h7m-3.5 -3.5v7M340.3 321.3h7m-3.5 -3.5v7M340.9 308.3h7m-3.5 -3.5v7M341.1 305.7h7m-3.5 -3.5v7M341.4 321.3h7m-3.5 -3.5v7M341.6 310.9h7m-3.5 -3.5v7M342.2 308.3h7m-3.5 -3.5v7M342.5 313.5h7m-3.5 -3.5v7M342.7 321.3h7m-3.5 -3.5v7M342.8 316.1h7m-3.5 -3.5v7M343.1 305.7h7m-3.5 -3.5v7M344.5 313.5h7m-3.5 -3.5v7M354.5 318.7h7m-3.5 -3.5v7M355.1 308.3h7m-3.5 -3.5v7M355.8 310.9h7m-3.5 -3.5v7M356.0 313.5h7m-3.5 -3.5v7M356.6 316.1h7m-3.5 -3.5v7M357.3 318.7h7m-3.5 -3.5v7M357.6 318.7h7m-3.5 -3.5v7M358.3 308.3h7m-3.5 -3.5v7M359.0 310.9h7m-3.5 -3.5v7M361.0 310.9h7m-3.5 -3.5v7M361.4 316.1h7m-3.5 -3.5v7M362.1 303.1h7m-3.5 -3.5v7M362.3 316.1h7m-3.5 -3.5v7M363.3 305.7h7m-3.5 -3.5v7M363.6 303.1h7m-3.5 -3.5v7M364.2 318.7h7m-3.5 -3.5v7M365.0 282.3h7m-3.5 -3.5v7M365.2 287.5h7m-3.5 -3.5v7M365.4 300.5h7m-3.5 -3.5v7M365.9 287.5h7m-3.5 -3.5v7M366.2 295.3h7m-3.5 -3.5v7M366.5 297.9h7m-3.5 -3.5v7M366.7 297.9h7m-3.5 -3.5v7M367.1 300.5h7m-3.5 -3.5v7M367.6 295.3h7m-3.5 -3.5v7M367.9 303.1h7m-3.5 -3.5v7M368.1 295.3h7m-3.5 -3.5v7M368.5 305.7h7m-3.5 -3.5v7M368.8 297.9h7m-3.5 -3.5v7M369.2 300.5h7m-3.5 -3.5v7M369.4 300.5h7m-3.5 -3.5v7M369.7 295.3h7m-3.5 -3.5v7M370.0 303.1h7m-3.5 -3.5v7M370.4 297.9h7m-3.5 -3.5v7M370.8 300.5h7m-3.5 -3.5v7M371.0 297.9h7m-3.5 -3.5v7M371.5 300.5h7m-3.5 -3.5v7M371.8 295.3h7m-3.5 -3.5v7M372.1 300.5h7m-3.5 -3.5v7M372.4 305.7h7m-3.5 -3.5v7M372.9 305.7h7m-3.5 -3.5v7M373.2 295.3h7m-3.5 -3.5v7M373.3 300.5h7m-3.5 -3.5v7M373.6 308.3h7m-3.5 -3.5v7M373.9 308.3h7m-3.5 -3.5v7M374.3 308.3h7m-3.5 -3.5v7M374.6 297.9h7m-3.5 -3.5v7M375.0 300.5h7m-3.5 -3.5v7M375.4 313.5h7m-3.5 -3.5v7M375.8 308.3h7m-3.5 -3.5v7M375.9 300.5h7m-3.5 -3.5v7M376.3 313.5h7m-3.5 -3.5v7M376.6 303.1h7m-3.5 -3.5v7M376.9 310.9h7m-3.5 -3.5v7M377.5 305.7h7m-3.5 -3.5v7M377.7 305.7h7m-3.5 -3.5v7M378.1 305.7h7m-3.5 -3.5v7M378.4 303.1h7m-3.5 -3.5v7M378.7 308.3h7m-3.5 -3.5v7M378.9 316.1h7m-3.5 -3.5v7M379.2 310.9h7m-3.5 -3.5v7M379.6 313.5h7m-3.5 -3.5v7M379.6 308.3h7m-3.5 -3.5v7M380.1 326.4h7m-3.5 -3.5v7M380.1 316.1h7m-3.5 -3.5v7M380.3 308.3h7m-3.5 -3.5v7M380.6 318.7h7m-3.5 -3.5v7M380.9 313.5h7m-3.5 -3.5v7M381.0 331.6h7m-3.5 -3.5v7M381.0 313.5h7m-3.5 -3.5v7M381.4 323.9h7m-3.5 -3.5v7M381.4 316.1h7m-3.5 -3.5v7M382.0 316.1h7m-3.5 -3.5v7M382.2 326.4h7m-3.5 -3.5v7M382.3 323.9h7m-3.5 -3.5v7M382.9 313.5h7m-3.5 -3.5v7M383.0 321.3h7m-3.5 -3.5v7M383.7 321.3h7m-3.5 -3.5v7M383.8 321.3h7m-3.5 -3.5v7M383.9 321.3h7m-3.5 -3.5v7M384.1 316.1h7m-3.5 -3.5v7M384.6 321.3h7m-3.5 -3.5v7M385.2 321.3h7m-3.5 -3.5v7M385.7 323.9h7m-3.5 -3.5v7M385.9 313.5h7m-3.5 -3.5v7M386.3 329.0h7m-3.5 -3.5v7M386.3 318.7h7m-3.5 -3.5v7M386.7 323.9h7m-3.5 -3.5v7M387.0 326.4h7m-3.5 -3.5v7M387.2 313.5h7m-3.5 -3.5v7M387.8 316.1h7m-3.5 -3.5v7M388.2 326.4h7m-3.5 -3.5v7M388.5 321.3h7m-3.5 -3.5v7M388.7 326.4h7m-3.5 -3.5v7M389.1 313.5h7m-3.5 -3.5v7M389.4 321.3h7m-3.5 -3.5v7M389.5 313.5h7m-3.5 -3.5v7M389.7 326.4h7m-3.5 -3.5v7M390.2 326.4h7m-3.5 -3.5v7M390.6 323.9h7m-3.5 -3.5v7M390.9 316.1h7m-3.5 -3.5v7M390.9 318.7h7m-3.5 -3.5v7M391.4 326.4h7m-3.5 -3.5v7M391.7 316.1h7m-3.5 -3.5v7M392.1 321.3h7m-3.5 -3.5v7M392.6 316.1h7m-3.5 -3.5v7M392.8 316.1h7m-3.5 -3.5v7M393.1 316.1h7m-3.5 -3.5v7M393.2 310.9h7m-3.5 -3.5v7M393.4 316.1h7m-3.5 -3.5v7M394.0 313.5h7m-3.5 -3.5v7M394.4 321.3h7m-3.5 -3.5v7M394.7 318.7h7m-3.5 -3.5v7M395.1 313.5h7m-3.5 -3.5v7M395.3 323.9h7m-3.5 -3.5v7M395.4 318.7h7m-3.5 -3.5v7M395.8 313.5h7m-3.5 -3.5v7M396.3 310.9h7m-3.5 -3.5v7M396.5 316.1h7m-3.5 -3.5v7M397.1 321.3h7m-3.5 -3.5v7M397.3 316.1h7m-3.5 -3.5v7M397.8 313.5h7m-3.5 -3.5v7M398.2 308.3h7m-3.5 -3.5v7M398.3 323.9h7m-3.5 -3.5v7M398.7 316.1h7m-3.5 -3.5v7M398.9 323.9h7m-3.5 -3.5v7M399.0 318.7h7m-3.5 -3.5v7M399.3 321.3h7m-3.5 -3.5v7M399.5 310.9h7m-3.5 -3.5v7M400.1 323.9h7m-3.5 -3.5v7M400.3 318.7h7m-3.5 -3.5v7M400.8 326.4h7m-3.5 -3.5v7M401.0 316.1h7m-3.5 -3.5v7M401.0 334.2h7m-3.5 -3.5v7M401.0 323.9h7m-3.5 -3.5v7M401.3 316.1h7m-3.5 -3.5v7M401.8 313.5h7m-3.5 -3.5v7M401.9 321.3h7m-3.5 -3.5v7M402.4 310.9h7m-3.5 -3.5v7M402.4 310.9h7m-3.5 -3.5v7M402.6 318.7h7m-3.5 -3.5v7M403.2 316.1h7m-3.5 -3.5v7M403.5 316.1h7m-3.5 -3.5v7M403.9 308.3h7m-3.5 -3.5v7M404.1 305.7h7m-3.5 -3.5v7M404.4 321.3h7m-3.5 -3.5v7M404.6 300.5h7m-3.5 -3.5v7M404.6 313.5h7m-3.5 -3.5v7M404.8 292.7h7m-3.5 -3.5v7M404.9 323.9h7m-3.5 -3.5v7M405.0 287.5h7m-3.5 -3.5v7M405.2 297.9h7m-3.5 -3.5v7M405.6 308.3h7m-3.5 -3.5v7M405.9 305.7h7m-3.5 -3.5v7M406.0 323.9h7m-3.5 -3.5v7M406.2 310.9h7m-3.5 -3.5v7M406.5 321.3h7m-3.5 -3.5v7M407.0 323.9h7m-3.5 -3.5v7M407.2 313.5h7m-3.5 -3.5v7M407.7 310.9h7m-3.5 -3.5v7M408.2 308.3h7m-3.5 -3.5v7M408.4 316.1h7m-3.5 -3.5v7M408.5 318.7h7m-3.5 -3.5v7M408.8 323.9h7m-3.5 -3.5v7M409.2 318.7h7m-3.5 -3.5v7M409.6 323.9h7m-3.5 -3.5v7M409.8 321.3h7m-3.5 -3.5v7M410.0 316.1h7m-3.5 -3.5v7M410.4 323.9h7m-3.5 -3.5v7M410.4 323.9h7m-3.5 -3.5v7M410.8 318.7h7m-3.5 -3.5v7M411.0 264.2h7m-3.5 -3.5v7M419.1 277.1h7m-3.5 -3.5v7M419.5 274.6h7m-3.5 -3.5v7M419.6 287.5h7m-3.5 -3.5v7M419.9 279.7h7m-3.5 -3.5v7M420.1 279.7h7m-3.5 -3.5v7M420.5 282.3h7m-3.5 -3.5v7M420.5 274.6h7m-3.5 -3.5v7M420.7 274.6h7m-3.5 -3.5v7M421.0 284.9h7m-3.5 -3.5v7M421.4 274.6h7m-3.5 -3.5v7M421.5 287.5h7m-3.5 -3.5v7M421.7 279.7h7m-3.5 -3.5v7M422.0 274.6h7m-3.5 -3.5v7M422.2 279.7h7m-3.5 -3.5v7M422.6 277.1h7m-3.5 -3.5v7M422.7 277.1h7m-3.5 -3.5v7M422.9 287.5h7m-3.5 -3.5v7M423.2 279.7h7m-3.5 -3.5v7M424.5 282.3h7m-3.5 -3.5v7M433.2 290.1h7m-3.5 -3.5v7M433.6 292.7h7m-3.5 -3.5v7M433.6 292.7h7m-3.5 -3.5v7M434.0 303.1h7m-3.5 -3.5v7M434.3 292.7h7m-3.5 -3.5v7M434.6 300.5h7m-3.5 -3.5v7M434.7 295.3h7m-3.5 -3.5v7M435.3 295.3h7m-3.5 -3.5v7M435.3 305.7h7m-3.5 -3.5v7M435.7 303.1h7m-3.5 -3.5v7M436.0 303.1h7m-3.5 -3.5v7M436.3 297.9h7m-3.5 -3.5v7M436.5 300.5h7m-3.5 -3.5v7M436.9 308.3h7m-3.5 -3.5v7M437.2 305.7h7m-3.5 -3.5v7M437.4 305.7h7m-3.5 -3.5v7M437.7 300.5h7m-3.5 -3.5v7M438.1 310.9h7m-3.5 -3.5v7M438.1 310.9h7m-3.5 -3.5v7M438.7 305.7h7m-3.5 -3.5v7M438.9 308.3h7m-3.5 -3.5v7M439.1 308.3h7m-3.5 -3.5v7M439.5 305.7h7m-3.5 -3.5v7M439.7 313.5h7m-3.5 -3.5v7M440.1 308.3h7m-3.5 -3.5v7M440.2 316.1h7m-3.5 -3.5v7M440.7 316.1h7m-3.5 -3.5v7M440.9 316.1h7m-3.5 -3.5v7M441.2 313.5h7m-3.5 -3.5v7M441.5 313.5h7m-3.5 -3.5v7M441.6 310.9h7m-3.5 -3.5v7M441.9 318.7h7m-3.5 -3.5v7M442.3 313.5h7m-3.5 -3.5v7M442.6 316.1h7m-3.5 -3.5v7M442.9 313.5h7m-3.5 -3.5v7M442.9 321.3h7m-3.5 -3.5v7M443.5 318.7h7m-3.5 -3.5v7M443.9 323.9h7m-3.5 -3.5v7M444.1 321.3h7m-3.5 -3.5v7M444.7 323.9h7m-3.5 -3.5v7M444.7 326.4h7m-3.5 -3.5v7M444.9 316.1h7m-3.5 -3.5v7M445.0 292.7h7m-3.5 -3.5v7M445.3 323.9h7m-3.5 -3.5v7M445.7 313.5h7m-3.5 -3.5v7M445.9 310.9h7m-3.5 -3.5v7M446.3 316.1h7m-3.5 -3.5v7M446.5 326.4h7m-3.5 -3.5v7M447.2 313.5h7m-3.5 -3.5v7M447.3 313.5h7m-3.5 -3.5v7M447.5 326.4h7m-3.5 -3.5v7M448.0 318.7h7m-3.5 -3.5v7M448.4 321.3h7m-3.5 -3.5v7M448.7 318.7h7m-3.5 -3.5v7M449.1 321.3h7m-3.5 -3.5v7M449.1 326.4h7m-3.5 -3.5v7M449.7 316.1h7m-3.5 -3.5v7M450.1 318.7h7m-3.5 -3.5v7M450.2 323.9h7m-3.5 -3.5v7M450.2 321.3h7m-3.5 -3.5v7M450.9 313.5h7m-3.5 -3.5v7M451.3 326.4h7m-3.5 -3.5v7M451.6 318.7h7m-3.5 -3.5v7M452.0 297.9h7m-3.5 -3.5v7M452.1 321.3h7m-3.5 -3.5v7M452.2 313.5h7m-3.5 -3.5v7M452.3 321.3h7m-3.5 -3.5v7M452.9 323.9h7m-3.5 -3.5v7M453.5 323.9h7m-3.5 -3.5v7M453.7 323.9h7m-3.5 -3.5v7M453.8 329.0h7m-3.5 -3.5v7M454.0 326.4h7m-3.5 -3.5v7M454.5 329.0h7m-3.5 -3.5v7M454.7 323.9h7m-3.5 -3.5v7M455.0 321.3h7m-3.5 -3.5v7M455.5 313.5h7m-3.5 -3.5v7M455.7 313.5h7m-3.5 -3.5v7M455.8 321.3h7m-3.5 -3.5v7M456.2 313.5h7m-3.5 -3.5v7M456.5 300.5h7m-3.5 -3.5v7M456.6 321.3h7m-3.5 -3.5v7M456.9 323.9h7m-3.5 -3.5v7M457.0 318.7h7m-3.5 -3.5v7M457.3 323.9h7m-3.5 -3.5v7M458.0 326.4h7m-3.5 -3.5v7M458.2 313.5h7m-3.5 -3.5v7M458.8 318.7h7m-3.5 -3.5v7M459.0 313.5h7m-3.5 -3.5v7M459.4 313.5h7m-3.5 -3.5v7M459.5 326.4h7m-3.5 -3.5v7M460.0 318.7h7m-3.5 -3.5v7M460.5 326.4h7m-3.5 -3.5v7M461.0 321.3h7m-3.5 -3.5v7M461.0 292.7h7m-3.5 -3.5v7M461.5 321.3h7m-3.5 -3.5v7M461.5 326.4h7m-3.5 -3.5v7M461.5 318.7h7m-3.5 -3.5v7M462.0 316.1h7m-3.5 -3.5v7M462.5 313.5h7m-3.5 -3.5v7M463.0 329.0h7m-3.5 -3.5v7M463.1 313.5h7m-3.5 -3.5v7M463.4 313.5h7m-3.5 -3.5v7M463.8 326.4h7m-3.5 -3.5v7M464.1 323.9h7m-3.5 -3.5v7M464.4 313.5h7m-3.5 -3.5v7M464.5 310.9h7m-3.5 -3.5v7M465.0 323.9h7m-3.5 -3.5v7M465.6 321.3h7m-3.5 -3.5v7M465.7 323.9h7m-3.5 -3.5v7M465.7 316.1h7m-3.5 -3.5v7M466.1 313.5h7m-3.5 -3.5v7M466.9 326.4h7m-3.5 -3.5v7M467.0 326.4h7m-3.5 -3.5v7M467.1 326.4h7m-3.5 -3.5v7M467.5 331.6h7m-3.5 -3.5v7M467.7 323.9h7m-3.5 -3.5v7M467.9 316.1h7m-3.5 -3.5v7M468.5 321.3h7m-3.5 -3.5v7M468.6 323.9h7m-3.5 -3.5v7M468.9 321.3h7m-3.5 -3.5v7M469.0 323.9h7m-3.5 -3.5v7M469.7 318.7h7m-3.5 -3.5v7M470.0 318.7h7m-3.5 -3.5v7M470.2 313.5h7m-3.5 -3.5v7M470.4 321.3h7m-3.5 -3.5v7M470.5 303.1h7m-3.5 -3.5v7M470.8 321.3h7m-3.5 -3.5v7M471.2 321.3h7m-3.5 -3.5v7M471.8 313.5h7m-3.5 -3.5v7M472.0 300.5h7m-3.5 -3.5v7M472.3 321.3h7m-3.5 -3.5v7M472.7 316.1h7m-3.5 -3.5v7M472.8 316.1h7m-3.5 -3.5v7M473.2 326.4h7m-3.5 -3.5v7M473.2 318.7h7m-3.5 -3.5v7M473.7 316.1h7m-3.5 -3.5v7M474.3 321.3h7m-3.5 -3.5v7M474.3 313.5h7m-3.5 -3.5v7M474.5 308.3h7m-3.5 -3.5v7M474.8 321.3h7m-3.5 -3.5v7M474.8 326.4h7m-3.5 -3.5v7M475.7 323.9h7m-3.5 -3.5v7M475.7 318.7h7m-3.5 -3.5v7M475.8 326.4h7m-3.5 -3.5v7M476.2 323.9h7m-3.5 -3.5v7M476.7 310.9h7m-3.5 -3.5v7M484.8 297.9h7m-3.5 -3.5v7M485.2 292.7h7m-3.5 -3.5v7M485.4 290.1h7m-3.5 -3.5v7M485.7 300.5h7m-3.5 -3.5v7M485.9 303.1h7m-3.5 -3.5v7M486.2 300.5h7m-3.5 -3.5v7M486.4 292.7h7m-3.5 -3.5v7M486.9 303.1h7m-3.5 -3.5v7M487.1 297.9h7m-3.5 -3.5v7M487.6 295.3h7m-3.5 -3.5v7M487.9 297.9h7m-3.5 -3.5v7M488.0 305.7h7m-3.5 -3.5v7M488.5 300.5h7m-3.5 -3.5v7M488.7 305.7h7m-3.5 -3.5v7M488.9 300.5h7m-3.5 -3.5v7M489.4 300.5h7m-3.5 -3.5v7M489.5 326.4h7m-3.5 -3.5v7M489.9 305.7h7m-3.5 -3.5v7M490.0 308.3h7m-3.5 -3.5v7M490.4 300.5h7m-3.5 -3.5v7M490.6 308.3h7m-3.5 -3.5v7M491.1 313.5h7m-3.5 -3.5v7M491.4 313.5h7m-3.5 -3.5v7M491.7 308.3h7m-3.5 -3.5v7M491.9 310.9h7m-3.5 -3.5v7M492.0 300.5h7m-3.5 -3.5v7M492.4 308.3h7m-3.5 -3.5v7M492.7 308.3h7m-3.5 -3.5v7M493.2 323.9h7m-3.5 -3.5v7M493.3 318.7h7m-3.5 -3.5v7M493.4 316.1h7m-3.5 -3.5v7M493.9 308.3h7m-3.5 -3.5v7M494.3 308.3h7m-3.5 -3.5v7M494.5 308.3h7m-3.5 -3.5v7M494.8 318.7h7m-3.5 -3.5v7M494.9 300.5h7m-3.5 -3.5v7M495.0 303.1h7m-3.5 -3.5v7M495.3 313.5h7m-3.5 -3.5v7M495.4 308.3h7m-3.5 -3.5v7M495.8 316.1h7m-3.5 -3.5v7M496.2 310.9h7m-3.5 -3.5v7M496.5 316.1h7m-3.5 -3.5v7M496.8 300.5h7m-3.5 -3.5v7M497.0 308.3h7m-3.5 -3.5v7M497.2 308.3h7m-3.5 -3.5v7M497.8 316.1h7m-3.5 -3.5v7M497.9 308.3h7m-3.5 -3.5v7M498.2 310.9h7m-3.5 -3.5v7M498.4 316.1h7m-3.5 -3.5v7M498.8 316.1h7m-3.5 -3.5v7M499.0 318.7h7m-3.5 -3.5v7M499.3 323.9h7m-3.5 -3.5v7M499.4 313.5h7m-3.5 -3.5v7M499.6 321.3h7m-3.5 -3.5v7M499.9 310.9h7m-3.5 -3.5v7M500.1 318.7h7m-3.5 -3.5v7M500.7 318.7h7m-3.5 -3.5v7M500.7 313.5h7m-3.5 -3.5v7M500.8 316.1h7m-3.5 -3.5v7M501.3 313.5h7m-3.5 -3.5v7M501.6 308.3h7m-3.5 -3.5v7M501.8 310.9h7m-3.5 -3.5v7M501.8 321.3h7m-3.5 -3.5v7M502.4 313.5h7m-3.5 -3.5v7M502.7 318.7h7m-3.5 -3.5v7M502.8 326.4h7m-3.5 -3.5v7M503.0 334.2h7m-3.5 -3.5v7M503.2 318.7h7m-3.5 -3.5v7M503.3 321.3h7m-3.5 -3.5v7M503.4 313.5h7m-3.5 -3.5v7M503.9 310.9h7m-3.5 -3.5v7M504.1 300.5h7m-3.5 -3.5v7M504.2 313.5h7m-3.5 -3.5v7M504.7 316.1h7m-3.5 -3.5v7M504.8 313.5h7m-3.5 -3.5v7M505.1 318.7h7m-3.5 -3.5v7M505.6 316.1h7m-3.5 -3.5v7M506.0 310.9h7m-3.5 -3.5v7M506.1 318.7h7m-3.5 -3.5v7M506.3 300.5h7m-3.5 -3.5v7M506.5 310.9h7m-3.5 -3.5v7M506.5 316.1h7m-3.5 -3.5v7M506.9 310.9h7m-3.5 -3.5v7M507.2 313.5h7m-3.5 -3.5v7M507.8 313.5h7m-3.5 -3.5v7M507.9 321.3h7m-3.5 -3.5v7M508.0 308.3h7m-3.5 -3.5v7M508.5 313.5h7m-3.5 -3.5v7M508.7 310.9h7m-3.5 -3.5v7M508.7 305.7h7m-3.5 -3.5v7M509.2 316.1h7m-3.5 -3.5v7M509.4 310.9h7m-3.5 -3.5v7M509.6 303.1h7m-3.5 -3.5v7M509.7 316.1h7m-3.5 -3.5v7M509.8 323.9h7m-3.5 -3.5v7M510.2 316.1h7m-3.5 -3.5v7M510.7 316.1h7m-3.5 -3.5v7M510.9 308.3h7m-3.5 -3.5v7M511.1 316.1h7m-3.5 -3.5v7M511.1 308.3h7m-3.5 -3.5v7M511.5 313.5h7m-3.5 -3.5v7M512.1 313.5h7m-3.5 -3.5v7M512.1 316.1h7m-3.5 -3.5v7M512.2 323.9h7m-3.5 -3.5v7M512.4 318.7h7m-3.5 -3.5v7M512.8 316.1h7m-3.5 -3.5v7M512.9 318.7h7m-3.5 -3.5v7M512.9 316.1h7m-3.5 -3.5v7M513.5 316.1h7m-3.5 -3.5v7M513.6 318.7h7m-3.5 -3.5v7M514.1 310.9h7m-3.5 -3.5v7M514.3 308.3h7m-3.5 -3.5v7M514.4 310.9h7m-3.5 -3.5v7M514.8 308.3h7m-3.5 -3.5v7M515.1 310.9h7m-3.5 -3.5v7M515.1 297.9h7m-3.5 -3.5v7M515.5 308.3h7m-3.5 -3.5v7M515.6 321.3h7m-3.5 -3.5v7M515.9 308.3h7m-3.5 -3.5v7M516.1 305.7h7m-3.5 -3.5v7M516.2 310.9h7m-3.5 -3.5v7M516.4 316.1h7m-3.5 -3.5v7M516.9 308.3h7m-3.5 -3.5v7M517.0 316.1h7m-3.5 -3.5v7M517.4 318.7h7m-3.5 -3.5v7M517.8 308.3h7m-3.5 -3.5v7M517.9 323.9h7m-3.5 -3.5v7M518.2 316.1h7m-3.5 -3.5v7M518.4 295.3h7m-3.5 -3.5v7M518.4 310.9h7m-3.5 -3.5v7M518.8 313.5h7m-3.5 -3.5v7M518.9 313.5h7m-3.5 -3.5v7M519.4 318.7h7m-3.5 -3.5v7M519.4 310.9h7m-3.5 -3.5v7M519.7 308.3h7m-3.5 -3.5v7M520.0 308.3h7m-3.5 -3.5v7M520.2 300.5h7m-3.5 -3.5v7M520.4 310.9h7m-3.5 -3.5v7M520.7 308.3h7m-3.5 -3.5v7M521.1 303.1h7m-3.5 -3.5v7M521.2 316.1h7m-3.5 -3.5v7M521.5 316.1h7m-3.5 -3.5v7M521.8 321.3h7m-3.5 -3.5v7M521.9 313.5h7m-3.5 -3.5v7M522.3 318.7h7m-3.5 -3.5v7M522.3 316.1h7m-3.5 -3.5v7M522.7 308.3h7m-3.5 -3.5v7M522.9 316.1h7m-3.5 -3.5v7M523.0 305.7h7m-3.5 -3.5v7M523.3 308.3h7m-3.5 -3.5v7M523.6 316.1h7m-3.5 -3.5v7M523.9 308.3h7m-3.5 -3.5v7M524.3 308.3h7m-3.5 -3.5v7M524.4 295.3h7m-3.5 -3.5v7M524.5 318.7h7m-3.5 -3.5v7M524.8 316.1h7m-3.5 -3.5v7M525.0 308.3h7m-3.5 -3.5v7M525.6 308.3h7m-3.5 -3.5v7M525.6 316.1h7m-3.5 -3.5v7M525.7 323.9h7m-3.5 -3.5v7M526.2 313.5h7m-3.5 -3.5v7M526.3 316.1h7m-3.5 -3.5v7M526.5 316.1h7m-3.5 -3.5v7M526.9 313.5h7m-3.5 -3.5v7M527.3 310.9h7m-3.5 -3.5v7M527.4 323.9h7m-3.5 -3.5v7M527.5 313.5h7m-3.5 -3.5v7M527.6 318.7h7m-3.5 -3.5v7M527.8 310.9h7m-3.5 -3.5v7M528.3 318.7h7m-3.5 -3.5v7M528.5 316.1h7m-3.5 -3.5v7M528.5 321.3h7m-3.5 -3.5v7M529.0 313.5h7m-3.5 -3.5v7M529.4 308.3h7m-3.5 -3.5v7M529.6 318.7h7m-3.5 -3.5v7M529.6 318.7h7m-3.5 -3.5v7M529.9 297.9h7m-3.5 -3.5v7M530.0 313.5h7m-3.5 -3.5v7M530.5 308.3h7m-3.5 -3.5v7M530.8 310.9h7m-3.5 -3.5v7M531.0 310.9h7m-3.5 -3.5v7M531.2 318.7h7m-3.5 -3.5v7M531.4 316.1h7m-3.5 -3.5v7M531.6 297.9h7m-3.5 -3.5v7M531.7 316.1h7m-3.5 -3.5v7M532.1 310.9h7m-3.5 -3.5v7M532.5 316.1h7m-3.5 -3.5v7M532.9 323.9h7m-3.5 -3.5v7M533.1 313.5h7m-3.5 -3.5v7M533.4 310.9h7m-3.5 -3.5v7M533.5 303.1h7m-3.5 -3.5v7M533.6 308.3h7m-3.5 -3.5v7M533.9 308.3h7m-3.5 -3.5v7M534.2 313.5h7m-3.5 -3.5v7M534.3 318.7h7m-3.5 -3.5v7M534.6 300.5h7m-3.5 -3.5v7M534.8 295.3h7m-3.5 -3.5v7M535.1 310.9h7m-3.5 -3.5v7M535.4 313.5h7m-3.5 -3.5v7M535.8 303.1h7m-3.5 -3.5v7M536.0 305.7h7m-3.5 -3.5v7M536.4 303.1h7m-3.5 -3.5v7M536.6 292.7h7m-3.5 -3.5v7M536.8 292.7h7m-3.5 -3.5v7M537.1 300.5h7m-3.5 -3.5v7M537.4 303.1h7m-3.5 -3.5v7M537.6 300.5h7m-3.5 -3.5v7M537.8 292.7h7m-3.5 -3.5v7M538.1 303.1h7m-3.5 -3.5v7M538.3 295.3h7m-3.5 -3.5v7M538.7 295.3h7m-3.5 -3.5v7M538.9 292.7h7m-3.5 -3.5v7M539.1 295.3h7m-3.5 -3.5v7M539.3 295.3h7m-3.5 -3.5v7M539.6 292.7h7m-3.5 -3.5v7M539.7 295.3h7m-3.5 -3.5v7M539.9 287.5h7m-3.5 -3.5v7M540.2 287.5h7m-3.5 -3.5v7M540.3 284.9h7m-3.5 -3.5v7M540.5 292.7h7m-3.5 -3.5v7M540.6 287.5h7m-3.5 -3.5v7M540.9 295.3h7m-3.5 -3.5v7M541.1 300.5h7m-3.5 -3.5v7M541.4 290.1h7m-3.5 -3.5v7M541.4 287.5h7m-3.5 -3.5v7M541.8 290.1h7m-3.5 -3.5v7M541.9 290.1h7m-3.5 -3.5v7M542.1 300.5h7m-3.5 -3.5v7M542.4 290.1h7m-3.5 -3.5v7M542.7 303.1h7m-3.5 -3.5v7M542.8 290.1h7m-3.5 -3.5v7M543.0 290.1h7m-3.5 -3.5v7M543.5 295.3h7m-3.5 -3.5v7M543.5 295.3h7m-3.5 -3.5v7M543.8 303.1h7m-3.5 -3.5v7M544.2 303.1h7m-3.5 -3.5v7M544.3 295.3h7m-3.5 -3.5v7M544.6 300.5h7m-3.5 -3.5v7M544.9 295.3h7m-3.5 -3.5v7M545.2 308.3h7m-3.5 -3.5v7M545.3 297.9h7m-3.5 -3.5v7M545.7 295.3h7m-3.5 -3.5v7M545.7 292.7h7m-3.5 -3.5v7M545.8 300.5h7m-3.5 -3.5v7M546.2 308.3h7m-3.5 -3.5v7M546.5 323.9h7m-3.5 -3.5v7M546.5 308.3h7m-3.5 -3.5v7M546.8 318.7h7m-3.5 -3.5v7M547.2 321.3h7m-3.5 -3.5v7M547.3 313.5h7m-3.5 -3.5v7M547.6 310.9h7m-3.5 -3.5v7M547.9 300.5h7m-3.5 -3.5v7M548.0 287.5h7m-3.5 -3.5v7M548.1 313.5h7m-3.5 -3.5v7M548.2 292.7h7m-3.5 -3.5v7M548.2 300.5h7m-3.5 -3.5v7M548.5 310.9h7m-3.5 -3.5v7M548.8 310.9h7m-3.5 -3.5v7M549.2 316.1h7m-3.5 -3.5v7M549.3 313.5h7m-3.5 -3.5v7M549.9 313.5h7m-3.5 -3.5v7M550.0 316.1h7m-3.5 -3.5v7M550.0 321.3h7m-3.5 -3.5v7M550.5 308.3h7m-3.5 -3.5v7M550.5 292.7h7m-3.5 -3.5v7M550.9 313.5h7m-3.5 -3.5v7M551.4 321.3h7m-3.5 -3.5v7M551.4 318.7h7m-3.5 -3.5v7M551.7 313.5h7m-3.5 -3.5v7M552.2 308.3h7m-3.5 -3.5v7M552.3 297.9h7m-3.5 -3.5v7M552.4 310.9h7m-3.5 -3.5v7M552.6 318.7h7m-3.5 -3.5v7M553.0 310.9h7m-3.5 -3.5v7M553.0 318.7h7m-3.5 -3.5v7M553.5 323.9h7m-3.5 -3.5v7M553.7 316.1h7m-3.5 -3.5v7M554.1 323.9h7m-3.5 -3.5v7M554.1 316.1h7m-3.5 -3.5v7M554.4 308.3h7m-3.5 -3.5v7M554.8 318.7h7m-3.5 -3.5v7M555.1 316.1h7m-3.5 -3.5v7M555.1 316.1h7m-3.5 -3.5v7M555.2 313.5h7m-3.5 -3.5v7M555.7 316.1h7m-3.5 -3.5v7M555.8 313.5h7m-3.5 -3.5v7M556.3 308.3h7m-3.5 -3.5v7M556.5 318.7h7m-3.5 -3.5v7M556.7 313.5h7m-3.5 -3.5v7M556.9 305.7h7m-3.5 -3.5v7M557.1 318.7h7m-3.5 -3.5v7M557.5 305.7h7m-3.5 -3.5v7M557.5 308.3h7m-3.5 -3.5v7M557.5 326.4h7m-3.5 -3.5v7M557.9 316.1h7m-3.5 -3.5v7M558.0 292.7h7m-3.5 -3.5v7M558.0 308.3h7m-3.5 -3.5v7M558.1 308.3h7m-3.5 -3.5v7M558.7 313.5h7m-3.5 -3.5v7M558.9 321.3h7m-3.5 -3.5v7M559.4 308.3h7m-3.5 -3.5v7M559.5 318.7h7m-3.5 -3.5v7M559.7 308.3h7m-3.5 -3.5v7M559.9 313.5h7m-3.5 -3.5v7M560.0 316.1h7m-3.5 -3.5v7M560.4 313.5h7m-3.5 -3.5v7M560.6 316.1h7m-3.5 -3.5v7M560.8 310.9h7m-3.5 -3.5v7M561.2 292.7h7m-3.5 -3.5v7M561.3 316.1h7m-3.5 -3.5v7M561.6 300.5h7m-3.5 -3.5v7M561.7 313.5h7m-3.5 -3.5v7M562.0 318.7h7m-3.5 -3.5v7M562.2 318.7h7m-3.5 -3.5v7M562.4 297.9h7m-3.5 -3.5v7M562.8 313.5h7m-3.5 -3.5v7M563.2 313.5h7m-3.5 -3.5v7M563.3 313.5h7m-3.5 -3.5v7M563.4 323.9h7m-3.5 -3.5v7M563.6 318.7h7m-3.5 -3.5v7M564.0 318.7h7m-3.5 -3.5v7M564.6 316.1h7m-3.5 -3.5v7M564.7 316.1h7m-3.5 -3.5v7M565.0 313.5h7m-3.5 -3.5v7M565.1 313.5h7m-3.5 -3.5v7M565.2 300.5h7m-3.5 -3.5v7M565.5 313.5h7m-3.5 -3.5v7M565.9 313.5h7m-3.5 -3.5v7M566.0 287.5h7m-3.5 -3.5v7M566.2 318.7h7m-3.5 -3.5v7M566.4 305.7h7m-3.5 -3.5v7M566.5 310.9h7m-3.5 -3.5v7M566.6 318.7h7m-3.5 -3.5v7M567.1 318.7h7m-3.5 -3.5v7M567.2 321.3h7m-3.5 -3.5v7M567.6 310.9h7m-3.5 -3.5v7M567.8 310.9h7m-3.5 -3.5v7M568.2 316.1h7m-3.5 -3.5v7M568.3 318.7h7m-3.5 -3.5v7M568.7 316.1h7m-3.5 -3.5v7M568.8 313.5h7m-3.5 -3.5v7M569.3 313.5h7m-3.5 -3.5v7M569.5 303.1h7m-3.5 -3.5v7M569.5 321.3h7m-3.5 -3.5v7M569.8 321.3h7m-3.5 -3.5v7M570.2 316.1h7m-3.5 -3.5v7M570.3 316.1h7m-3.5 -3.5v7M570.7 310.9h7m-3.5 -3.5v7M570.9 318.7h7m-3.5 -3.5v7M571.0 284.9h7m-3.5 -3.5v7M571.1 308.3h7m-3.5 -3.5v7M571.2 292.7h7m-3.5 -3.5v7M571.2 321.3h7m-3.5 -3.5v7M571.7 300.5h7m-3.5 -3.5v7M571.7 310.9h7m-3.5 -3.5v7M572.0 321.3h7m-3.5 -3.5v7M572.2 321.3h7m-3.5 -3.5v7M572.7 316.1h7m-3.5 -3.5v7M572.8 310.9h7m-3.5 -3.5v7M572.9 321.3h7m-3.5 -3.5v7M573.6 321.3h7m-3.5 -3.5v7M573.8 318.7h7m-3.5 -3.5v7M573.9 326.4h7m-3.5 -3.5v7M573.9 310.9h7m-3.5 -3.5v7M574.5 316.1h7m-3.5 -3.5v7M574.8 316.1h7m-3.5 -3.5v7M575.0 313.5h7m-3.5 -3.5v7M575.2 316.1h7m-3.5 -3.5v7M575.5 313.5h7m-3.5 -3.5v7M575.7 313.5h7m-3.5 -3.5v7M575.8 316.1h7m-3.5 -3.5v7M575.9 318.7h7m-3.5 -3.5v7M576.3 321.3h7m-3.5 -3.5v7M576.7 313.5h7m-3.5 -3.5v7M576.8 297.9h7m-3.5 -3.5v7M576.9 313.5h7m-3.5 -3.5v7M577.0 326.4h7m-3.5 -3.5v7M577.3 316.1h7m-3.5 -3.5v7M577.6 313.5h7m-3.5 -3.5v7M577.9 310.9h7m-3.5 -3.5v7M578.3 305.7h7m-3.5 -3.5v7M578.4 313.5h7m-3.5 -3.5v7M578.5 292.7h7m-3.5 -3.5v7M578.9 318.7h7m-3.5 -3.5v7M579.1 308.3h7m-3.5 -3.5v7M579.2 313.5h7m-3.5 -3.5v7M579.3 316.1h7m-3.5 -3.5v7M579.4 297.9h7m-3.5 -3.5v7M579.8 310.9h7m-3.5 -3.5v7M580.1 318.7h7m-3.5 -3.5v7M580.5 318.7h7m-3.5 -3.5v7M580.7 318.7h7m-3.5 -3.5v7M580.8 310.9h7m-3.5 -3.5v7M581.1 313.5h7m-3.5 -3.5v7M581.3 326.4h7m-3.5 -3.5v7M581.5 310.9h7m-3.5 -3.5v7M581.5 295.3h7m-3.5 -3.5v7M582.0 321.3h7m-3.5 -3.5v7M582.3 313.5h7m-3.5 -3.5v7M582.5 316.1h7m-3.5 -3.5v7M582.6 313.5h7m-3.5 -3.5v7M583.0 326.4h7m-3.5 -3.5v7M583.0 313.5h7m-3.5 -3.5v7M583.4 310.9h7m-3.5 -3.5v7M583.7 310.9h7m-3.5 -3.5v7M584.1 313.5h7m-3.5 -3.5v7M584.1 326.4h7m-3.5 -3.5v7M584.3 316.1h7m-3.5 -3.5v7M584.8 310.9h7m-3.5 -3.5v7M584.8 308.3h7m-3.5 -3.5v7M585.3 313.5h7m-3.5 -3.5v7M585.6 300.5h7m-3.5 -3.5v7M585.6 316.1h7m-3.5 -3.5v7M585.8 313.5h7m-3.5 -3.5v7M586.2 310.9h7m-3.5 -3.5v7M586.4 316.1h7m-3.5 -3.5v7M586.8 318.7h7m-3.5 -3.5v7M586.8 305.7h7m-3.5 -3.5v7M587.2 321.3h7m-3.5 -3.5v7M587.3 316.1h7m-3.5 -3.5v7M587.5 321.3h7m-3.5 -3.5v7M588.0 310.9h7m-3.5 -3.5v7M588.3 321.3h7m-3.5 -3.5v7M588.5 310.9h7m-3.5 -3.5v7M588.6 316.1h7m-3.5 -3.5v7M589.0 321.3h7m-3.5 -3.5v7M589.1 316.1h7m-3.5 -3.5v7M589.4 318.7h7m-3.5 -3.5v7M589.5 326.4h7m-3.5 -3.5v7M589.9 313.5h7m-3.5 -3.5v7M589.9 303.1h7m-3.5 -3.5v7M590.1 316.1h7m-3.5 -3.5v7M590.6 318.7h7m-3.5 -3.5v7M590.8 316.1h7m-3.5 -3.5v7M591.1 318.7h7m-3.5 -3.5v7M591.7 313.5h7m-3.5 -3.5v7M591.9 305.7h7m-3.5 -3.5v7M592.0 313.5h7m-3.5 -3.5v7M592.1 318.7h7m-3.5 -3.5v7M592.5 310.9h7m-3.5 -3.5v7M592.5 303.1h7m-3.5 -3.5v7M592.9 316.1h7m-3.5 -3.5v7M593.0 292.7h7m-3.5 -3.5v7M593.4 321.3h7m-3.5 -3.5v7M593.7 318.7h7m-3.5 -3.5v7M593.8 310.9h7m-3.5 -3.5v7M594.2 321.3h7m-3.5 -3.5v7M594.3 316.1h7m-3.5 -3.5v7M594.8 321.3h7m-3.5 -3.5v7M595.2 313.5h7m-3.5 -3.5v7M595.4 313.5h7m-3.5 -3.5v7M595.5 318.7h7m-3.5 -3.5v7M595.7 321.3h7m-3.5 -3.5v7M596.4 318.7h7m-3.5 -3.5v7M596.5 310.9h7m-3.5 -3.5v7M596.8 310.9h7m-3.5 -3.5v7M597.0 316.1h7m-3.5 -3.5v7M597.4 318.7h7m-3.5 -3.5v7M597.7 313.5h7m-3.5 -3.5v7M597.9 316.1h7m-3.5 -3.5v7M598.1 313.5h7m-3.5 -3.5v7M598.4 310.9h7m-3.5 -3.5v7M598.5 300.5h7m-3.5 -3.5v7M598.8 310.9h7m-3.5 -3.5v7M598.9 318.7h7m-3.5 -3.5v7M599.4 310.9h7m-3.5 -3.5v7M599.6 313.5h7m-3.5 -3.5v7M599.8 318.7h7m-3.5 -3.5v7M600.2 310.9h7m-3.5 -3.5v7M600.4 318.7h7m-3.5 -3.5v7M600.5 321.3h7m-3.5 -3.5v7M600.9 318.7h7m-3.5 -3.5v7M601.2 313.5h7m-3.5 -3.5v7M601.7 321.3h7m-3.5 -3.5v7M601.8 310.9h7m-3.5 -3.5v7M602.3 313.5h7m-3.5 -3.5v7M602.3 318.7h7m-3.5 -3.5v7M602.6 316.1h7m-3.5 -3.5v7M602.7 310.9h7m-3.5 -3.5v7M603.0 292.7h7m-3.5 -3.5v7M603.2 313.5h7m-3.5 -3.5v7M603.5 310.9h7m-3.5 -3.5v7M603.7 323.9h7m-3.5 -3.5v7M603.9 318.7h7m-3.5 -3.5v7M604.0 310.9h7m-3.5 -3.5v7M604.5 313.5h7m-3.5 -3.5v7M604.8 318.7h7m-3.5 -3.5v7M605.0 321.3h7m-3.5 -3.5v7M605.5 310.9h7m-3.5 -3.5v7M605.7 313.5h7m-3.5 -3.5v7M605.8 316.1h7m-3.5 -3.5v7M606.1 318.7h7m-3.5 -3.5v7M606.4 321.3h7m-3.5 -3.5v7M606.8 321.3h7m-3.5 -3.5v7M607.0 297.9h7m-3.5 -3.5v7M607.1 308.3h7m-3.5 -3.5v7M607.2 329.0h7m-3.5 -3.5v7M607.4 316.1h7m-3.5 -3.5v7M607.5 305.7h7m-3.5 -3.5v7M607.7 321.3h7m-3.5 -3.5v7M607.9 313.5h7m-3.5 -3.5v7M608.2 318.7h7m-3.5 -3.5v7M608.6 318.7h7m-3.5 -3.5v7M608.8 323.9h7m-3.5 -3.5v7M609.2 321.3h7m-3.5 -3.5v7M609.5 313.5h7m-3.5 -3.5v7M609.9 321.3h7m-3.5 -3.5v7M610.3 313.5h7m-3.5 -3.5v7M610.4 313.5h7m-3.5 -3.5v7M611.0 310.9h7m-3.5 -3.5v7M611.2 303.1h7m-3.5 -3.5v7M611.2 310.9h7m-3.5 -3.5v7M611.7 321.3h7m-3.5 -3.5v7M611.9 313.5h7m-3.5 -3.5v7M611.9 326.4h7m-3.5 -3.5v7M612.3 316.1h7m-3.5 -3.5v7M612.8 310.9h7m-3.5 -3.5v7M612.8 313.5h7m-3.5 -3.5v7M612.9 321.3h7m-3.5 -3.5v7M613.3 316.1h7m-3.5 -3.5v7M613.9 318.7h7m-3.5 -3.5v7M614.0 303.1h7m-3.5 -3.5v7M614.1 318.7h7m-3.5 -3.5v7M614.5 310.9h7m-3.5 -3.5v7M614.6 313.5h7m-3.5 -3.5v7M614.7 310.9h7m-3.5 -3.5v7M615.2 318.7h7m-3.5 -3.5v7M615.6 310.9h7m-3.5 -3.5v7M615.9 321.3h7m-3.5 -3.5v7M616.3 313.5h7m-3.5 -3.5v7M616.3 313.5h7m-3.5 -3.5v7M616.6 313.5h7m-3.5 -3.5v7M617.0 318.7h7m-3.5 -3.5v7M617.4 318.7h7m-3.5 -3.5v7M617.4 303.1h7m-3.5 -3.5v7M617.6 316.1h7m-3.5 -3.5v7M617.7 303.1h7m-3.5 -3.5v7M617.9 310.9h7m-3.5 -3.5v7M618.5 305.7h7m-3.5 -3.5v7M618.6 321.3h7m-3.5 -3.5v7M618.8 316.1h7m-3.5 -3.5v7M619.3 310.9h7m-3.5 -3.5v7M619.5 321.3h7m-3.5 -3.5v7M619.9 318.7h7m-3.5 -3.5v7M619.9 303.1h7m-3.5 -3.5v7M620.3 318.7h7m-3.5 -3.5v7M620.4 326.4h7m-3.5 -3.5v7M620.6 313.5h7m-3.5 -3.5v7M621.1 310.9h7m-3.5 -3.5v7M621.4 313.5h7m-3.5 -3.5v7M621.7 318.7h7m-3.5 -3.5v7M622.1 316.1h7m-3.5 -3.5v7M622.3 326.4h7m-3.5 -3.5v7M622.5 318.7h7m-3.5 -3.5v7M622.9 310.9h7m-3.5 -3.5v7M623.0 303.1h7m-3.5 -3.5v7M623.0 318.7h7m-3.5 -3.5v7M623.5 305.7h7m-3.5 -3.5v7M623.5 321.3h7m-3.5 -3.5v7M623.9 321.3h7m-3.5 -3.5v7M624.2 326.4h7m-3.5 -3.5v7M624.3 310.9h7m-3.5 -3.5v7M624.6 318.7h7m-3.5 -3.5v7M624.8 318.7h7m-3.5 -3.5v7M625.4 318.7h7m-3.5 -3.5v7M625.6 310.9h7m-3.5 -3.5v7M625.8 321.3h7m-3.5 -3.5v7M626.2 303.1h7m-3.5 -3.5v7M626.4 318.7h7m-3.5 -3.5v7M626.6 318.7h7m-3.5 -3.5v7M626.8 318.7h7m-3.5 -3.5v7M627.0 318.7h7m-3.5 -3.5v7M627.5 316.1h7m-3.5 -3.5v7M627.8 316.1h7m-3.5 -3.5v7M627.9 313.5h7m-3.5 -3.5v7M628.1 310.9h7m-3.5 -3.5v7M628.6 310.9h7m-3.5 -3.5v7M628.7 318.7h7m-3.5 -3.5v7M629.0 303.1h7m-3.5 -3.5v7M629.0 321.3h7m-3.5 -3.5v7M629.3 318.7h7m-3.5 -3.5v7M629.7 318.7h7m-3.5 -3.5v7M629.8 313.5h7m-3.5 -3.5v7M630.4 318.7h7m-3.5 -3.5v7M630.4 313.5h7m-3.5 -3.5v7M630.8 303.1h7m-3.5 -3.5v7M631.1 313.5h7m-3.5 -3.5v7M631.2 313.5h7m-3.5 -3.5v7M631.8 321.3h7m-3.5 -3.5v7M631.9 321.3h7m-3.5 -3.5v7M632.2 318.7h7m-3.5 -3.5v7M632.2 323.9h7m-3.5 -3.5v7M632.7 321.3h7m-3.5 -3.5v7M633.0 310.9h7m-3.5 -3.5v7M633.4 316.1h7m-3.5 -3.5v7M633.8 318.7h7m-3.5 -3.5v7M633.9 316.1h7m-3.5 -3.5v7M634.0 316.1h7m-3.5 -3.5v7M634.3 321.3h7m-3.5 -3.5v7M634.4 308.3h7m-3.5 -3.5v7M634.8 316.1h7m-3.5 -3.5v7M634.9 316.1h7m-3.5 -3.5v7M635.3 316.1h7m-3.5 -3.5v7M635.4 323.9h7m-3.5 -3.5v7M635.6 316.1h7m-3.5 -3.5v7M636.0 316.1h7m-3.5 -3.5v7M636.3 321.3h7m-3.5 -3.5v7M636.7 308.3h7m-3.5 -3.5v7M636.8 321.3h7m-3.5 -3.5v7M637.4 318.7h7m-3.5 -3.5v7M637.4 313.5h7m-3.5 -3.5v7M637.8 316.1h7m-3.5 -3.5v7M638.0 318.7h7m-3.5 -3.5v7M638.2 316.1h7m-3.5 -3.5v7M638.3 316.1h7m-3.5 -3.5v7M638.7 318.7h7m-3.5 -3.5v7M639.0 308.3h7m-3.5 -3.5v7M639.2 318.7h7m-3.5 -3.5v7M639.7 318.7h7m-3.5 -3.5v7M639.9 321.3h7m-3.5 -3.5v7M640.3 318.7h7m-3.5 -3.5v7M640.6 310.9h7m-3.5 -3.5v7M640.8 318.7h7m-3.5 -3.5v7M640.9 316.1h7m-3.5 -3.5v7M640.9 318.7h7m-3.5 -3.5v7M641.0 297.9h7m-3.5 -3.5v7M641.2 303.1h7m-3.5 -3.5v7M641.4 318.7h7m-3.5 -3.5v7M641.5 316.1h7m-3.5 -3.5v7M641.8 318.7h7m-3.5 -3.5v7M641.9 313.5h7m-3.5 -3.5v7M642.1 318.7h7m-3.5 -3.5v7M642.3 321.3h7m-3.5 -3.5v7M642.9 321.3h7m-3.5 -3.5v7M643.0 318.7h7m-3.5 -3.5v7M643.4 318.7h7m-3.5 -3.5v7M643.8 323.9h7m-3.5 -3.5v7M644.0 316.1h7m-3.5 -3.5v7M644.1 316.1h7m-3.5 -3.5v7M644.4 313.5h7m-3.5 -3.5v7M644.5 305.7h7m-3.5 -3.5v7M644.9 318.7h7m-3.5 -3.5v7M645.0 313.5h7m-3.5 -3.5v7M645.3 318.7h7m-3.5 -3.5v7M645.8 323.9h7m-3.5 -3.5v7M646.0 321.3h7m-3.5 -3.5v7M646.4 318.7h7m-3.5 -3.5v7M646.5 323.9h7m-3.5 -3.5v7M646.6 321.3h7m-3.5 -3.5v7M646.6 303.1h7m-3.5 -3.5v7M647.0 300.5h7m-3.5 -3.5v7M647.2 316.1h7m-3.5 -3.5v7M647.4 308.3h7m-3.5 -3.5v7M647.6 318.7h7m-3.5 -3.5v7M648.1 316.1h7m-3.5 -3.5v7M648.1 321.3h7m-3.5 -3.5v7M648.4 318.7h7m-3.5 -3.5v7M648.9 318.7h7m-3.5 -3.5v7M649.2 310.9h7m-3.5 -3.5v7M649.5 321.3h7m-3.5 -3.5v7M649.5 308.3h7m-3.5 -3.5v7M649.5 305.7h7m-3.5 -3.5v7M649.6 316.1h7m-3.5 -3.5v7M649.7 316.1h7m-3.5 -3.5v7M650.0 331.6h7m-3.5 -3.5v7M650.2 318.7h7m-3.5 -3.5v7M650.7 310.9h7m-3.5 -3.5v7M650.9 318.7h7m-3.5 -3.5v7M651.2 318.7h7m-3.5 -3.5v7M651.4 313.5h7m-3.5 -3.5v7M651.7 313.5h7m-3.5 -3.5v7M651.8 321.3h7m-3.5 -3.5v7M652.2 323.9h7m-3.5 -3.5v7M652.3 321.3h7m-3.5 -3.5v7M652.6 318.7h7m-3.5 -3.5v7M653.0 321.3h7m-3.5 -3.5v7M653.0 310.9h7m-3.5 -3.5v7M653.1 318.7h7m-3.5 -3.5v7M653.5 303.1h7m-3.5 -3.5v7M653.7 321.3h7m-3.5 -3.5v7M653.9 321.3h7m-3.5 -3.5v7M654.3 321.3h7m-3.5 -3.5v7M654.4 316.1h7m-3.5 -3.5v7M654.6 318.7h7m-3.5 -3.5v7M655.1 318.7h7m-3.5 -3.5v7M655.3 318.7h7m-3.5 -3.5v7M655.6 310.9h7m-3.5 -3.5v7M655.8 316.1h7m-3.5 -3.5v7M656.0 326.4h7m-3.5 -3.5v7M656.1 318.7h7m-3.5 -3.5v7M656.4 326.4h7m-3.5 -3.5v7M656.5 321.3h7m-3.5 -3.5v7M656.7 310.9h7m-3.5 -3.5v7M657.1 310.9h7m-3.5 -3.5v7M657.3 321.3h7m-3.5 -3.5v7M657.6 321.3h7m-3.5 -3.5v7M657.8 316.1h7m-3.5 -3.5v7M658.1 321.3h7m-3.5 -3.5v7M658.4 323.9h7m-3.5 -3.5v7M658.7 318.7h7m-3.5 -3.5v7M658.9 313.5h7m-3.5 -3.5v7M659.2 321.3h7m-3.5 -3.5v7M659.6 316.1h7m-3.5 -3.5v7M659.8 313.5h7m-3.5 -3.5v7M660.1 316.1h7m-3.5 -3.5v7M660.2 305.7h7m-3.5 -3.5v7M660.4 310.9h7m-3.5 -3.5v7M660.9 310.9h7m-3.5 -3.5v7M661.0 316.1h7m-3.5 -3.5v7M661.2 321.3h7m-3.5 -3.5v7M661.9 316.1h7m-3.5 -3.5v7M662.0 318.7h7m-3.5 -3.5v7M662.2 318.7h7m-3.5 -3.5v7M662.6 323.9h7m-3.5 -3.5v7M662.6 321.3h7m-3.5 -3.5v7M662.8 313.5h7m-3.5 -3.5v7M663.3 305.7h7m-3.5 -3.5v7M663.4 321.3h7m-3.5 -3.5v7M663.8 316.1h7m-3.5 -3.5v7M664.1 318.7h7m-3.5 -3.5v7M664.3 323.9h7m-3.5 -3.5v7M664.4 318.7h7m-3.5 -3.5v7M664.5 321.3h7m-3.5 -3.5v7M664.9 313.5h7m-3.5 -3.5v7M665.0 321.3h7m-3.5 -3.5v7M665.4 321.3h7m-3.5 -3.5v7M665.7 316.1h7m-3.5 -3.5v7M665.7 318.7h7m-3.5 -3.5v7M666.0 303.1h7m-3.5 -3.5v7M666.2 316.1h7m-3.5 -3.5v7M666.4 321.3h7m-3.5 -3.5v7M666.8 316.1h7m-3.5 -3.5v7M667.1 318.7h7m-3.5 -3.5v7M667.2 323.9h7m-3.5 -3.5v7M667.7 308.3h7m-3.5 -3.5v7M668.0 316.1h7m-3.5 -3.5v7M668.2 316.1h7m-3.5 -3.5v7M668.4 316.1h7m-3.5 -3.5v7M668.6 321.3h7m-3.5 -3.5v7M669.2 321.3h7m-3.5 -3.5v7M669.2 305.7h7m-3.5 -3.5v7M669.5 308.3h7m-3.5 -3.5v7M669.9 321.3h7m-3.5 -3.5v7M670.0 316.1h7m-3.5 -3.5v7M670.1 321.3h7m-3.5 -3.5v7M670.3 323.9h7m-3.5 -3.5v7M670.8 316.1h7m-3.5 -3.5v7M670.9 323.9h7m-3.5 -3.5v7M671.1 321.3h7m-3.5 -3.5v7M671.7 318.7h7m-3.5 -3.5v7M672.0 313.5h7m-3.5 -3.5v7M672.0 316.1h7m-3.5 -3.5v7M672.3 310.9h7m-3.5 -3.5v7M672.5 308.3h7m-3.5 -3.5v7M672.5 303.1h7m-3.5 -3.5v7M672.8 321.3h7m-3.5 -3.5v7M672.9 321.3h7m-3.5 -3.5v7M673.2 316.1h7m-3.5 -3.5v7M673.6 318.7h7m-3.5 -3.5v7M674.1 308.3h7m-3.5 -3.5v7M674.4 321.3h7m-3.5 -3.5v7M674.4 313.5h7m-3.5 -3.5v7M674.7 316.1h7m-3.5 -3.5v7M674.9 316.1h7m-3.5 -3.5v7M675.3 316.1h7m-3.5 -3.5v7M675.6 313.5h7m-3.5 -3.5v7M675.9 321.3h7m-3.5 -3.5v7M676.2 321.3h7m-3.5 -3.5v7M676.3 321.3h7m-3.5 -3.5v7M676.8 321.3h7m-3.5 -3.5v7M676.8 326.4h7m-3.5 -3.5v7M677.1 316.1h7m-3.5 -3.5v7M677.3 316.1h7m-3.5 -3.5v7M677.6 318.7h7m-3.5 -3.5v7M678.0 310.9h7m-3.5 -3.5v7M678.2 318.7h7m-3.5 -3.5v7M678.3 321.3h7m-3.5 -3.5v7M678.7 318.7h7m-3.5 -3.5v7M678.9 321.3h7m-3.5 -3.5v7M679.1 318.7h7m-3.5 -3.5v7M679.3 318.7h7m-3.5 -3.5v7M679.9 316.1h7m-3.5 -3.5v7M680.0 321.3h7m-3.5 -3.5v7M680.2 321.3h7m-3.5 -3.5v7M680.4 323.9h7m-3.5 -3.5v7M680.7 318.7h7m-3.5 -3.5v7M681.3 321.3h7m-3.5 -3.5v7M681.3 313.5h7m-3.5 -3.5v7M681.6 321.3h7m-3.5 -3.5v7M681.6 318.7h7m-3.5 -3.5v7M682.3 316.1h7m-3.5 -3.5v7M682.5 308.3h7m-3.5 -3.5v7M682.8 310.9h7m-3.5 -3.5v7M682.8 329.0h7m-3.5 -3.5v7M682.8 316.1h7m-3.5 -3.5v7M682.9 310.9h7m-3.5 -3.5v7M683.0 336.8h7m-3.5 -3.5v7M683.1 316.1h7m-3.5 -3.5v7M683.6 316.1h7m-3.5 -3.5v7M683.7 318.7h7m-3.5 -3.5v7M684.0 305.7h7m-3.5 -3.5v7M684.3 310.9h7m-3.5 -3.5v7M684.4 318.7h7m-3.5 -3.5v7M684.8 318.7h7m-3.5 -3.5v7M684.9 321.3h7m-3.5 -3.5v7M685.0 316.1h7m-3.5 -3.5v7M685.3 321.3h7m-3.5 -3.5v7M685.9 321.3h7m-3.5 -3.5v7M686.1 318.7h7m-3.5 -3.5v7M686.1 313.5h7m-3.5 -3.5v7M686.6 321.3h7m-3.5 -3.5v7M686.6 323.9h7m-3.5 -3.5v7M686.8 308.3h7m-3.5 -3.5v7M687.5 318.7h7m-3.5 -3.5v7M687.5 316.1h7m-3.5 -3.5v7M687.7 316.1h7m-3.5 -3.5v7M688.1 321.3h7m-3.5 -3.5v7M688.4 323.9h7m-3.5 -3.5v7M688.6 316.1h7m-3.5 -3.5v7M689.1 321.3h7m-3.5 -3.5v7M689.2 323.9h7m-3.5 -3.5v7M689.9 316.1h7m-3.5 -3.5v7M690.1 321.3h7m-3.5 -3.5v7M690.1 323.9h7m-3.5 -3.5v7M690.2 321.3h7m-3.5 -3.5v7M690.4 318.7h7m-3.5 -3.5v7M690.9 316.1h7m-3.5 -3.5v7M691.1 321.3h7m-3.5 -3.5v7M691.3 308.3h7m-3.5 -3.5v7M691.8 331.6h7m-3.5 -3.5v7M691.9 316.1h7m-3.5 -3.5v7M691.9 310.9h7m-3.5 -3.5v7M692.0 336.8h7m-3.5 -3.5v7M692.2 334.2h7m-3.5 -3.5v7M692.4 318.7h7m-3.5 -3.5v7M692.4 308.3h7m-3.5 -3.5v7M692.5 310.9h7m-3.5 -3.5v7M692.6 316.1h7m-3.5 -3.5v7M693.2 321.3h7m-3.5 -3.5v7M693.4 318.7h7m-3.5 -3.5v7M693.8 313.5h7m-3.5 -3.5v7M694.1 308.3h7m-3.5 -3.5v7M694.1 318.7h7m-3.5 -3.5v7M694.5 316.1h7m-3.5 -3.5v7M695.1 313.5h7m-3.5 -3.5v7M695.3 321.3h7m-3.5 -3.5v7M695.4 316.1h7m-3.5 -3.5v7M695.7 318.7h7m-3.5 -3.5v7M696.2 318.7h7m-3.5 -3.5v7M696.6 316.1h7m-3.5 -3.5v7M696.8 316.1h7m-3.5 -3.5v7M697.1 318.7h7m-3.5 -3.5v7M697.4 308.3h7m-3.5 -3.5v7M697.6 318.7h7m-3.5 -3.5v7M698.0 316.1h7m-3.5 -3.5v7M698.3 318.7h7m-3.5 -3.5v7M698.6 316.1h7m-3.5 -3.5v7M699.0 308.3h7m-3.5 -3.5v7M699.0 313.5h7m-3.5 -3.5v7M699.5 316.1h7m-3.5 -3.5v7M699.8 318.7h7m-3.5 -3.5v7M699.8 313.5h7m-3.5 -3.5v7M700.0 305.7h7m-3.5 -3.5v7M700.3 313.5h7m-3.5 -3.5v7M700.9 313.5h7m-3.5 -3.5v7M701.1 318.7h7m-3.5 -3.5v7M701.7 313.5h7m-3.5 -3.5v7M702.0 313.5h7m-3.5 -3.5v7M702.0 313.5h7m-3.5 -3.5v7M702.3 310.9h7m-3.5 -3.5v7M702.6 316.1h7m-3.5 -3.5v7M702.6 313.5h7m-3.5 -3.5v7M703.1 318.7h7m-3.5 -3.5v7M703.2 313.5h7m-3.5 -3.5v7M703.7 316.1h7m-3.5 -3.5v7M704.2 313.5h7m-3.5 -3.5v7M704.7 313.5h7m-3.5 -3.5v7M704.9 321.3h7m-3.5 -3.5v7M705.0 316.1h7m-3.5 -3.5v7M705.2 313.5h7m-3.5 -3.5v7M705.6 316.1h7m-3.5 -3.5v7M706.0 305.7h7m-3.5 -3.5v7M706.2 318.7h7m-3.5 -3.5v7M706.5 318.7h7m-3.5 -3.5v7M706.8 313.5h7m-3.5 -3.5v7M706.9 313.5h7m-3.5 -3.5v7M707.5 308.3h7m-3.5 -3.5v7M707.5 313.5h7m-3.5 -3.5v7M707.9 318.7h7m-3.5 -3.5v7M708.3 316.1h7m-3.5 -3.5v7M708.5 308.3h7m-3.5 -3.5v7M708.7 318.7h7m-3.5 -3.5v7M709.2 313.5h7m-3.5 -3.5v7M709.3 316.1h7m-3.5 -3.5v7M709.7 310.9h7m-3.5 -3.5v7M709.8 316.1h7m-3.5 -3.5v7M710.1 316.1h7m-3.5 -3.5v7M712.7 316.1h7m-3.5 -3.5v7M713.0 300.5h7m-3.5 -3.5v7M713.2 303.1h7m-3.5 -3.5v7M713.5 310.9h7m-3.5 -3.5v7M714.0 305.7h7m-3.5 -3.5v7M714.4 305.7h7m-3.5 -3.5v7M714.8 303.1h7m-3.5 -3.5v7M714.9 305.7h7m-3.5 -3.5v7M715.2 300.5h7m-3.5 -3.5v7M715.6 305.7h7m-3.5 -3.5v7M716.1 310.9h7m-3.5 -3.5v7M716.3 310.9h7m-3.5 -3.5v7M716.5 303.1h7m-3.5 -3.5v7M716.9 316.1h7m-3.5 -3.5v7M717.4 305.7h7m-3.5 -3.5v7M717.5 310.9h7m-3.5 -3.5v7M717.8 300.5h7m-3.5 -3.5v7M718.0 313.5h7m-3.5 -3.5v7M718.5 305.7h7m-3.5 -3.5v7M719.0 310.9h7m-3.5 -3.5v7" stroke-width="1.5"/>
<path d="M722.5 52.5H759.5"/><path d="M737 52.5h7m-3.5 -3.5v7"/>
</g>
<g><text x="58.0" y="45.5" text-anchor="end">100</text>
<text x="58.0" y="71.5" text-anchor="end">90</text>
<text x="58.0" y="97.5" text-anchor="end">80</text>
<text x="58.0" y="123.5" text-anchor="end">70</text>
<text x="58.0" y="149.5" text-anchor="end">60</text>
<text x="58.0" y="175.5" text-anchor="end">50</text>
<text x="58.0" y="201.5" text-anchor="end">40</text>
<text x="58.0" y="227.5" text-anchor="end">30</text>
<text x="58.0" y="253.5" text-anchor="end">20</text>
<text x="58.0" y="279.5" text-anchor="end">10</text>
<text x="58.0" y="305.5" text-anchor="end">0</text>
<text x="58.0" y="330.5" text-anchor="end">-10</text>
<text x="58.0" y="356.5" text-anchor="end">-20</text>
<text x="58.0" y="382.5" text-anchor="end">-30</text>
<text x="58.0" y="408.5" text-anchor="end">-40</text>
<text x="58.0" y="434.5" text-anchor="end">-50</text>
<text x="58.0" y="460.5" text-anchor="end">-60</text>
<text x="58.0" y="486.5" text-anchor="end">-70</text>
<text x="58.0" y="512.5" text-anchor="end">-80</text>
<text x="58.0" y="538.5" text-anchor="end">-90</text>
<text x="58.0" y="564.5" text-anchor="end">-100</text>
<text x="65.8" y="577.5" text-anchor="middle">00:00</text>
<text x="65.8" y="590.5" text-anchor="middle">02Oct</text>
<text x="120.5" y="577.5" text-anchor="middle">00:00</text>
<text x="120.5" y="590.5" text-anchor="middle">03Oct</text>
<text x="175.1" y="577.5" text-anchor="middle">00:00</text>
<text x="175.1" y="590.5" text-anchor="middle">04Oct</text>
<text x="229.7" y="577.5" text-anchor="middle">00:00</text>
<text x="229.7" y="590.5" text-anchor="middle">05Oct</text>
<text x="284.3" y="577.5" text-anchor="middle">00:00</text>
<text x="284.3" y="590.5" text-anchor="middle">06Oct</text>
<text x="338.9" y="577.5" text-anchor="middle">00:00</text>
<text x="338.9" y="590.5" text-anchor="middle">07Oct</text>
<text x="393.5" y="577.5" text-anchor="middle">00:00</text>
<text x="393.5" y="590.5" text-anchor="middle">08Oct</text>
<text x="448.1" y="577.5" text-anchor="middle">00:00</text>
<text x="448.1" y="590.5" text-anchor="middle">09Oct</text>
<text x="502.8" y="577.5" text-anchor="middle">00:00</text>
<text x="502.8" y="590.5" text-anchor="middle">10Oct</text>
<text x="557.4" y="577.5" text-anchor="middle">00:00</text>
<text x="557.4" y="590.5" text-anchor="middle">11Oct</text>
<text x="612.0" y="577.5" text-anchor="middle">00:00</text>
<text x="612.0" y="590.5" text-anchor="middle">12Oct</text>
<text x="666.6" y="577.5" text-anchor="middle">00:00</text>
<text x="666.6" y="590.5" text-anchor="middle">13Oct</text>
<text x="721.2" y="577.5" text-anchor="middle">00:00</text>
<text x="721.2" y="590.5" text-anchor="middle">14Oct</text>
<text x="775.8" y="577.5" text-anchor="middle">00:00</text>
<text x="775.8" y="590.5" text-anchor="middle">15Oct</text>
<text x="421.1" y="25.5" text-anchor="middle">VOLTAGE DROP IN DOUBLE MOSFET SWITCH</text>
<text x="714.0" y="56.5" text-anchor="end">vbus1-vbat1</text>
<text transform="translate(18.5 299.5) rotate(-90)" text-anchor="middle">voltage/mV</text></g>
</svg>
</body></html>
